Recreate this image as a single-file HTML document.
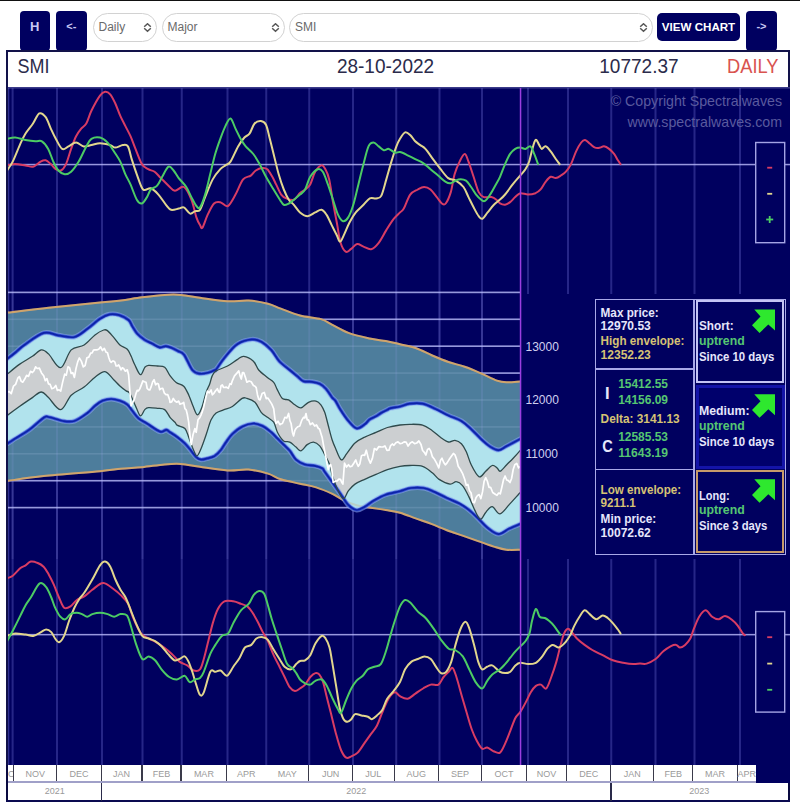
<!DOCTYPE html>
<html><head><meta charset="utf-8">
<style>
*{box-sizing:border-box;margin:0;padding:0}
html,body{width:800px;height:804px;overflow:hidden;background:#fff;font-family:"Liberation Sans",sans-serif}
.a{position:absolute}
.btn{position:absolute;background:#000060;border-radius:4px;color:#c8c8f4;font-weight:bold;font-size:13px;text-align:center}
.sel{position:absolute;border:1px solid #d2d2d2;border-radius:15px;background:#fff;color:#6a6a6a;font-size:12px}
.sel span{position:absolute;left:5px;top:6.4px}
.chev{position:absolute;top:9px}
.hdr{position:absolute;left:6px;top:50px;width:784px;height:38px;border:2px solid #12124a;border-bottom:none;background:#fff}
.hdr div{position:absolute;top:5px;font-size:19px;color:#2d2d4d;white-space:nowrap}
.box{position:absolute;font-weight:bold;font-size:12px;line-height:14px;white-space:nowrap}
.w{color:#eeeeff} .g{color:#d8c470} .gr{color:#42c45a}
.ax{position:absolute;font-size:9px;color:#9a9a9a;text-align:center}
</style></head><body>
<div class="a" style="left:0;top:0;width:800px;height:1.2px;background:#111"></div>
<div class="btn" style="left:19.5px;top:11px;width:30.5px;height:40px;padding-top:8px">H</div>
<div class="btn" style="left:56px;top:11px;width:30.5px;height:40px;padding-top:8.5px;font-size:11px">&lt;-</div>
<div class="sel" style="left:92.5px;top:13px;width:64.5px;height:28.5px"><span>Daily</span><svg class="chev" style="left:49px" width="9" height="10" viewBox="0 0 9 10"><path d="M1.2,3.8 L4.5,0.8 L7.8,3.8 M1.2,5.2 L4.5,8.2 L7.8,5.2" fill="none" stroke="#555" stroke-width="1.5"/></svg></div>
<div class="sel" style="left:161.5px;top:13px;width:123px;height:28.5px"><span>Major</span><svg class="chev" style="left:108px" width="9" height="10" viewBox="0 0 9 10"><path d="M1.2,3.8 L4.5,0.8 L7.8,3.8 M1.2,5.2 L4.5,8.2 L7.8,5.2" fill="none" stroke="#555" stroke-width="1.5"/></svg></div>
<div class="sel" style="left:289px;top:13px;width:363.5px;height:28.5px"><span>SMI</span><svg class="chev" style="left:349px" width="9" height="10" viewBox="0 0 9 10"><path d="M1.2,3.8 L4.5,0.8 L7.8,3.8 M1.2,5.2 L4.5,8.2 L7.8,5.2" fill="none" stroke="#555" stroke-width="1.5"/></svg></div>
<div class="btn" style="left:657px;top:12.5px;width:83px;height:28.5px;border-radius:5px;padding-top:7.5px;color:#fff;font-size:11.6px">VIEW CHART</div>
<div class="btn" style="left:746px;top:11px;width:31px;height:40px;padding-top:8.5px;font-size:11px">-&gt;</div>
<div class="hdr"></div>
<svg width="800" height="804" viewBox="0 0 800 804" style="position:absolute;left:0;top:0">
<defs><clipPath id="pc"><rect x="8" y="292" width="512.5" height="268"/></clipPath><clipPath id="tc"><rect x="8" y="88" width="782" height="204"/></clipPath><clipPath id="bc"><rect x="8" y="559" width="782" height="206"/></clipPath></defs>
<rect x="6" y="87" width="784" height="678" fill="#00005f"/>
<rect x="8" y="87" width="782" height="1.6" fill="#3a3a8a"/>
<rect x="6" y="87" width="2" height="678" fill="#10104a"/>
<rect x="8.2" y="88" width="1" height="677" fill="rgba(120,120,220,0.5)"/>
<rect x="11.60" y="88" width="2" height="677" fill="rgba(110,110,215,0.34)"/>
<rect x="56.00" y="88" width="2" height="677" fill="rgba(110,110,215,0.34)"/>
<rect x="101.00" y="88" width="2" height="677" fill="rgba(110,110,215,0.34)"/>
<rect x="141.50" y="88" width="2" height="677" fill="rgba(110,110,215,0.34)"/>
<rect x="180.75" y="88" width="2" height="677" fill="rgba(110,110,215,0.34)"/>
<rect x="226.50" y="88" width="2" height="677" fill="rgba(110,110,215,0.34)"/>
<rect x="265.25" y="88" width="2" height="677" fill="rgba(110,110,215,0.34)"/>
<rect x="308.25" y="88" width="2" height="677" fill="rgba(110,110,215,0.34)"/>
<rect x="352.00" y="88" width="2" height="677" fill="rgba(110,110,215,0.34)"/>
<rect x="395.25" y="88" width="2" height="677" fill="rgba(110,110,215,0.34)"/>
<rect x="438.50" y="88" width="2" height="677" fill="rgba(110,110,215,0.34)"/>
<rect x="481.00" y="88" width="2" height="677" fill="rgba(110,110,215,0.34)"/>
<rect x="527.00" y="88" width="2" height="206" fill="rgba(110,110,215,0.34)"/>
<rect x="527.00" y="559" width="2" height="206" fill="rgba(110,110,215,0.34)"/>
<rect x="567.00" y="88" width="2" height="206" fill="rgba(110,110,215,0.34)"/>
<rect x="567.00" y="559" width="2" height="206" fill="rgba(110,110,215,0.34)"/>
<rect x="610.25" y="88" width="2" height="206" fill="rgba(110,110,215,0.34)"/>
<rect x="610.25" y="559" width="2" height="206" fill="rgba(110,110,215,0.34)"/>
<rect x="654.50" y="88" width="2" height="206" fill="rgba(110,110,215,0.34)"/>
<rect x="654.50" y="559" width="2" height="206" fill="rgba(110,110,215,0.34)"/>
<rect x="693.50" y="88" width="2" height="206" fill="rgba(110,110,215,0.34)"/>
<rect x="693.50" y="559" width="2" height="206" fill="rgba(110,110,215,0.34)"/>
<rect x="739.00" y="88" width="2" height="206" fill="rgba(110,110,215,0.34)"/>
<rect x="739.00" y="559" width="2" height="206" fill="rgba(110,110,215,0.34)"/>
<rect x="8" y="291.60" width="512.5" height="1.6" fill="rgba(190,190,255,0.75)"/>
<rect x="8" y="318.50" width="512.5" height="1.6" fill="rgba(190,190,255,0.75)"/>
<rect x="8" y="345.40" width="512.5" height="1.6" fill="rgba(190,190,255,0.75)"/>
<rect x="8" y="372.30" width="512.5" height="1.6" fill="rgba(190,190,255,0.75)"/>
<rect x="8" y="399.20" width="512.5" height="1.6" fill="rgba(190,190,255,0.75)"/>
<rect x="8" y="426.10" width="512.5" height="1.6" fill="rgba(190,190,255,0.75)"/>
<rect x="8" y="453.00" width="512.5" height="1.6" fill="rgba(190,190,255,0.75)"/>
<rect x="8" y="479.90" width="512.5" height="1.6" fill="rgba(190,190,255,0.75)"/>
<rect x="8" y="506.80" width="512.5" height="1.6" fill="rgba(190,190,255,0.75)"/>
<g clip-path="url(#pc)">
<path d="M7.3,312.7C14.2,311.9 33.0,309.5 48.5,307.8C64.0,306.1 87.9,303.7 100.0,302.5C112.1,301.3 114.0,301.4 121.0,300.5C128.0,299.6 134.7,298.2 142.0,297.3C149.3,296.4 158.2,295.3 164.7,294.9C171.2,294.5 175.0,294.4 180.9,294.9C186.8,295.4 192.2,296.6 200.0,297.7C207.8,298.8 219.4,300.8 227.5,301.3C235.6,301.8 241.8,300.1 248.5,300.5C255.2,300.9 262.6,302.4 268.0,303.8C273.4,305.2 275.6,306.7 280.9,308.6C286.2,310.6 293.3,313.8 300.0,315.5C306.7,317.2 315.6,317.6 321.0,319.1C326.4,320.7 327.8,322.5 332.4,324.8C337.0,327.1 342.3,330.6 348.5,332.9C354.7,335.2 363.4,337.1 369.6,338.5C375.8,339.9 380.7,340.1 385.8,341.0C390.9,341.9 394.9,343.0 400.0,344.2C405.1,345.4 410.8,346.3 416.2,348.2C421.6,350.1 426.9,353.2 432.3,355.5C437.7,357.8 443.1,360.1 448.5,362.0C453.9,363.9 459.3,364.9 464.7,366.8C470.1,368.7 475.5,371.0 480.9,373.3C486.3,375.6 492.7,379.1 497.0,380.6C501.3,382.1 502.8,382.1 506.7,382.2C510.6,382.3 518.2,381.5 520.5,381.4L520.5,549.7C518.1,549.7 510.8,550.2 506.3,549.7C501.9,549.2 498.5,548.0 493.8,546.6C489.1,545.2 483.3,542.9 478.1,541.1C472.9,539.3 467.7,537.4 462.5,535.6C457.3,533.8 452.1,532.2 446.9,530.2C441.7,528.2 436.5,525.9 431.3,523.9C426.1,521.9 420.8,520.3 415.6,518.4C410.4,516.5 405.0,514.1 400.0,512.7C395.0,511.3 390.9,510.9 385.8,510.0C380.7,509.1 374.5,508.4 369.6,507.6C364.7,506.8 360.9,506.4 356.6,505.2C352.3,504.0 347.7,502.2 343.7,500.3C339.7,498.4 337.0,496.0 332.4,493.9C327.8,491.8 321.6,489.1 316.2,487.4C310.8,485.7 305.9,485.0 300.0,483.7C294.1,482.4 286.2,481.0 280.9,479.3C275.6,477.6 273.4,475.2 268.0,473.6C262.6,472.0 255.2,470.1 248.5,469.6C241.8,469.1 235.6,470.9 227.5,470.4C219.4,469.9 207.8,467.9 200.0,466.8C192.2,465.7 186.8,464.3 180.9,463.9C175.0,463.5 171.2,463.8 164.7,464.4C158.2,464.9 149.3,466.5 142.0,467.2C134.7,467.9 128.0,468.1 121.0,468.8C114.0,469.5 112.9,470.0 100.0,471.2C87.1,472.4 59.2,474.4 43.7,476.0C28.2,477.6 13.4,480.1 7.3,480.9Z" fill="#4d7d9c"/>
</g>
<rect x="8" y="291.60" width="512.5" height="1.6" fill="rgba(200,220,255,0.15)"/>
<rect x="8" y="318.50" width="512.5" height="1.6" fill="rgba(200,220,255,0.15)"/>
<rect x="8" y="345.40" width="512.5" height="1.6" fill="rgba(200,220,255,0.15)"/>
<rect x="8" y="372.30" width="512.5" height="1.6" fill="rgba(200,220,255,0.15)"/>
<rect x="8" y="399.20" width="512.5" height="1.6" fill="rgba(200,220,255,0.15)"/>
<rect x="8" y="426.10" width="512.5" height="1.6" fill="rgba(200,220,255,0.15)"/>
<rect x="8" y="453.00" width="512.5" height="1.6" fill="rgba(200,220,255,0.15)"/>
<rect x="8" y="479.90" width="512.5" height="1.6" fill="rgba(200,220,255,0.15)"/>
<rect x="8" y="506.80" width="512.5" height="1.6" fill="rgba(200,220,255,0.15)"/>
<rect x="11.60" y="292" width="2" height="267" fill="rgba(170,170,255,0.12)"/>
<rect x="56.00" y="292" width="2" height="267" fill="rgba(170,170,255,0.12)"/>
<rect x="101.00" y="292" width="2" height="267" fill="rgba(170,170,255,0.12)"/>
<rect x="141.50" y="292" width="2" height="267" fill="rgba(170,170,255,0.12)"/>
<rect x="180.75" y="292" width="2" height="267" fill="rgba(170,170,255,0.12)"/>
<rect x="226.50" y="292" width="2" height="267" fill="rgba(170,170,255,0.12)"/>
<rect x="265.25" y="292" width="2" height="267" fill="rgba(170,170,255,0.12)"/>
<rect x="308.25" y="292" width="2" height="267" fill="rgba(170,170,255,0.12)"/>
<rect x="352.00" y="292" width="2" height="267" fill="rgba(170,170,255,0.12)"/>
<rect x="395.25" y="292" width="2" height="267" fill="rgba(170,170,255,0.12)"/>
<rect x="438.50" y="292" width="2" height="267" fill="rgba(170,170,255,0.12)"/>
<rect x="481.00" y="292" width="2" height="267" fill="rgba(170,170,255,0.12)"/>
<g clip-path="url(#pc)" fill="none" stroke-linejoin="round" stroke-linecap="round">
<path d="M7.3,312.7C14.2,311.9 33.0,309.5 48.5,307.8C64.0,306.1 87.9,303.7 100.0,302.5C112.1,301.3 114.0,301.4 121.0,300.5C128.0,299.6 134.7,298.2 142.0,297.3C149.3,296.4 158.2,295.3 164.7,294.9C171.2,294.5 175.0,294.4 180.9,294.9C186.8,295.4 192.2,296.6 200.0,297.7C207.8,298.8 219.4,300.8 227.5,301.3C235.6,301.8 241.8,300.1 248.5,300.5C255.2,300.9 262.6,302.4 268.0,303.8C273.4,305.2 275.6,306.7 280.9,308.6C286.2,310.6 293.3,313.8 300.0,315.5C306.7,317.2 315.6,317.6 321.0,319.1C326.4,320.7 327.8,322.5 332.4,324.8C337.0,327.1 342.3,330.6 348.5,332.9C354.7,335.2 363.4,337.1 369.6,338.5C375.8,339.9 380.7,340.1 385.8,341.0C390.9,341.9 394.9,343.0 400.0,344.2C405.1,345.4 410.8,346.3 416.2,348.2C421.6,350.1 426.9,353.2 432.3,355.5C437.7,357.8 443.1,360.1 448.5,362.0C453.9,363.9 459.3,364.9 464.7,366.8C470.1,368.7 475.5,371.0 480.9,373.3C486.3,375.6 492.7,379.1 497.0,380.6C501.3,382.1 502.8,382.1 506.7,382.2C510.6,382.3 518.2,381.5 520.5,381.4" stroke="#cfa46c" stroke-width="2"/>
<path d="M7.3,480.9C13.4,480.1 28.2,477.6 43.7,476.0C59.2,474.4 87.1,472.4 100.0,471.2C112.9,470.0 114.0,469.5 121.0,468.8C128.0,468.1 134.7,467.9 142.0,467.2C149.3,466.5 158.2,464.9 164.7,464.4C171.2,463.8 175.0,463.5 180.9,463.9C186.8,464.3 192.2,465.7 200.0,466.8C207.8,467.9 219.4,469.9 227.5,470.4C235.6,470.9 241.8,469.1 248.5,469.6C255.2,470.1 262.6,472.0 268.0,473.6C273.4,475.2 275.6,477.6 280.9,479.3C286.2,481.0 294.1,482.4 300.0,483.7C305.9,485.0 310.8,485.7 316.2,487.4C321.6,489.1 327.8,491.8 332.4,493.9C337.0,496.0 339.7,498.4 343.7,500.3C347.7,502.2 352.3,504.0 356.6,505.2C360.9,506.4 364.7,506.8 369.6,507.6C374.5,508.4 380.7,509.1 385.8,510.0C390.9,510.9 395.0,511.3 400.0,512.7C405.0,514.1 410.4,516.5 415.6,518.4C420.8,520.3 426.1,521.9 431.3,523.9C436.5,525.9 441.7,528.2 446.9,530.2C452.1,532.2 457.3,533.8 462.5,535.6C467.7,537.4 472.9,539.3 478.1,541.1C483.3,542.9 489.1,545.2 493.8,546.6C498.5,548.0 501.9,549.2 506.3,549.7C510.8,550.2 518.1,549.7 520.5,549.7" stroke="#cfa46c" stroke-width="2"/>
</g>
<g clip-path="url(#pc)">
<path d="M7.3,358.8C8.8,357.7 13.2,354.3 16.0,352.0C18.8,349.7 19.7,348.2 24.3,345.0C28.9,341.8 38.0,334.5 43.7,332.9C49.4,331.3 53.2,334.6 58.3,335.3C63.4,336.0 69.6,338.1 74.4,337.0C79.2,335.9 83.1,331.9 87.4,328.8C91.7,325.8 96.3,321.1 100.0,318.7C103.7,316.3 106.5,314.9 109.7,314.3C112.9,313.7 116.2,314.2 119.4,315.1C122.6,316.1 126.4,318.1 128.6,320.0C130.8,321.9 130.9,323.9 132.3,326.2C133.8,328.5 135.2,331.4 137.3,333.7C139.4,336.0 142.3,338.2 144.8,339.9C147.3,341.5 149.7,342.4 152.2,343.6C154.7,344.9 157.4,347.0 159.7,347.4C162.0,347.8 163.8,346.0 165.9,346.1C168.0,346.2 170.1,347.2 172.1,348.0C174.1,348.8 176.0,349.9 178.0,351.0C180.0,352.1 181.7,351.5 184.1,354.7C186.5,357.9 189.8,366.8 192.4,370.0C195.0,373.2 197.2,373.3 199.9,373.7C202.6,374.1 206.1,373.1 208.6,372.5C211.1,371.9 213.5,370.5 214.8,370.0C216.1,369.5 214.6,371.3 216.2,369.3C217.8,367.3 220.8,362.2 224.3,358.0C227.8,353.8 232.6,347.3 237.2,344.2C241.8,341.1 247.8,339.8 251.8,339.4C255.9,339.0 258.3,340.1 261.5,341.8C264.7,343.6 268.2,346.7 271.2,349.9C274.2,353.1 276.2,357.8 279.3,361.2C282.4,364.6 286.8,367.5 289.8,370.0C292.8,372.5 295.0,374.3 297.3,376.2C299.6,378.1 301.0,380.3 303.5,381.2C306.0,382.1 309.5,381.4 312.2,381.8C314.9,382.2 317.4,382.6 319.7,383.7C322.0,384.8 323.8,386.4 325.9,388.7C328.0,391.0 330.5,395.3 332.1,397.4C333.7,399.4 334.2,398.9 335.6,401.0C337.0,403.1 338.4,406.4 340.5,409.7C342.6,413.0 345.8,417.9 348.5,421.0C351.2,424.1 353.9,427.8 356.6,428.3C359.3,428.9 362.5,425.8 364.7,424.3C366.9,422.8 367.7,420.8 369.6,419.4C371.5,418.0 374.1,417.3 376.0,416.2C377.9,415.1 379.0,414.1 380.9,413.0C382.8,411.9 385.8,410.5 387.4,409.7C389.0,408.9 388.5,408.6 390.6,408.1C392.7,407.6 396.8,407.2 400.0,406.5C403.2,405.8 405.9,404.1 409.7,403.6C413.5,403.1 418.3,402.7 422.6,403.6C426.9,404.5 431.3,406.9 435.6,408.9C439.9,410.9 444.2,413.4 448.5,415.4C452.8,417.4 457.6,418.7 461.4,421.0C465.2,423.3 467.9,426.1 471.2,429.1C474.4,432.1 477.7,435.8 480.9,438.8C484.1,441.8 487.7,445.0 490.6,446.9C493.6,448.8 495.9,450.2 498.6,450.1C501.3,450.0 503.1,448.0 506.7,446.1C510.3,444.2 518.2,440.0 520.5,438.8L520.5,523.9C518.6,524.7 513.1,526.9 509.4,528.6C505.7,530.3 502.0,534.2 498.4,534.1C494.8,534.0 490.9,530.4 487.5,527.8C484.1,525.2 481.2,521.4 478.1,518.4C475.0,515.4 471.9,512.3 468.8,509.8C465.7,507.3 463.0,505.6 459.4,503.6C455.8,501.7 451.1,500.1 446.9,498.1C442.7,496.2 438.3,493.6 434.4,491.9C430.5,490.2 427.3,488.6 423.4,488.0C419.5,487.4 414.8,487.5 410.9,488.0C407.0,488.5 404.2,490.1 400.0,491.2C395.8,492.3 390.1,493.2 385.8,494.7C381.5,496.2 377.9,498.3 374.4,500.3C370.9,502.3 367.7,505.2 364.7,506.8C361.7,508.4 359.3,510.3 356.6,510.0C353.9,509.7 351.2,507.9 348.5,505.2C345.8,502.5 343.2,497.7 340.5,493.9C337.8,490.1 335.1,486.3 332.4,482.5C329.7,478.7 326.0,473.6 324.3,471.2C322.6,468.8 323.8,469.2 322.2,468.3C320.6,467.4 317.6,466.4 314.7,465.8C311.8,465.2 307.9,465.5 304.8,464.5C301.7,463.5 298.5,461.9 296.0,459.6C293.5,457.3 291.9,453.3 289.8,450.8C287.7,448.3 285.7,446.7 283.6,444.6C281.5,442.5 279.5,440.5 277.4,438.4C275.3,436.3 273.7,434.3 271.2,432.2C268.7,430.1 265.5,427.4 262.5,426.0C259.5,424.6 256.8,423.4 253.4,423.5C250.0,423.6 245.6,424.9 242.1,426.7C238.6,428.4 235.1,431.4 232.4,434.0C229.7,436.6 227.9,439.6 226.0,442.2C224.1,444.8 223.0,447.4 221.1,449.7C219.2,452.0 217.1,454.4 214.8,455.9C212.5,457.3 209.7,457.8 207.4,458.4C205.1,459.0 203.0,459.9 201.1,459.7C199.2,459.5 197.8,458.7 196.2,457.2C194.5,455.7 193.1,453.2 191.2,450.9C189.3,448.6 187.2,445.8 184.9,443.5C182.6,441.2 180.0,439.1 177.5,437.2C175.0,435.3 171.9,433.5 170.0,432.3C168.1,431.1 168.0,430.0 166.3,429.9C164.6,429.8 163.1,432.7 159.9,431.6C156.7,430.5 150.5,425.7 146.9,423.5C143.3,421.3 140.9,420.4 138.5,418.3C136.1,416.2 134.2,413.1 132.3,410.8C130.4,408.5 129.4,406.3 127.3,404.6C125.2,402.9 122.6,401.7 119.9,400.8C117.2,399.9 114.1,399.0 111.2,399.0C108.3,399.0 105.2,399.7 102.5,400.8C99.8,401.9 97.5,403.8 95.0,405.8C92.5,407.8 90.8,410.5 87.4,413.0C84.0,415.5 78.5,419.7 74.4,421.0C70.4,422.3 67.4,421.7 63.1,421.0C58.8,420.3 51.7,417.5 48.5,417.0C45.3,416.5 46.9,415.7 43.7,417.8C40.5,419.9 33.7,426.5 29.1,429.9C24.5,433.3 19.8,435.7 16.2,438.0C12.6,440.3 8.8,442.8 7.3,443.7Z" fill="#b1e3ed"/>
<path d="M7.3,374.1C9.3,372.5 15.2,367.4 19.4,364.4C23.6,361.4 28.8,358.7 32.4,356.3C36.0,353.9 38.6,350.3 41.3,349.9C44.0,349.5 45.3,350.9 48.5,353.9C51.7,356.9 56.9,368.4 60.7,367.7C64.5,367.0 67.3,353.7 71.2,349.9C75.1,346.1 80.1,347.5 84.1,345.0C88.1,342.5 91.7,337.4 95.0,334.9C98.3,332.4 101.6,330.7 103.7,330.0C105.8,329.3 105.7,329.4 107.4,330.6C109.1,331.8 111.6,335.0 113.7,337.4C115.8,339.8 117.6,342.9 119.9,344.9C122.2,346.9 125.4,347.3 127.3,349.2C129.2,351.1 129.8,353.5 131.1,356.1C132.3,358.7 133.2,361.7 134.8,364.8C136.4,367.9 138.7,374.3 140.4,374.7C142.1,375.1 143.5,368.9 144.8,367.3C146.2,365.8 146.4,365.6 148.5,365.4C150.6,365.2 154.5,365.7 157.2,366.0C159.9,366.3 162.6,365.7 164.7,367.3C166.8,368.9 168.1,373.1 170.0,375.6C171.9,378.1 173.9,380.7 176.2,382.5C178.5,384.3 181.6,384.1 183.7,386.2C185.8,388.3 187.1,391.6 188.7,394.9C190.2,398.2 191.6,402.8 193.0,406.1C194.4,409.4 195.9,414.6 197.4,414.8C198.9,415.0 200.4,411.1 201.8,407.4C203.2,403.7 204.8,396.3 206.1,392.4C207.4,388.4 208.8,386.5 209.8,383.7C210.8,380.9 211.2,377.7 212.3,375.6C213.4,373.5 213.7,372.5 216.2,370.9C218.7,369.3 224.0,367.9 227.5,366.0C231.0,364.1 234.5,361.2 237.2,359.6C239.9,358.0 241.0,356.0 243.7,356.3C246.4,356.6 250.9,358.9 253.4,361.2C255.9,363.5 256.4,367.3 258.7,370.0C261.0,372.7 264.9,375.4 267.4,377.5C269.9,379.6 272.0,380.3 273.7,382.4C275.4,384.5 275.9,387.2 277.4,389.9C278.8,392.6 280.5,396.9 282.4,398.6C284.3,400.3 286.5,398.9 288.6,399.9C290.7,400.9 292.7,403.5 294.8,404.8C296.9,406.1 298.7,408.3 301.0,407.9C303.3,407.5 306.0,403.4 308.5,402.3C311.0,401.2 313.9,400.7 316.0,401.1C318.1,401.5 319.4,402.9 320.9,404.8C322.3,406.7 323.4,408.8 324.7,412.3C325.9,415.8 327.2,421.4 328.4,426.0C329.6,430.6 330.9,435.9 332.1,439.7C333.3,443.4 334.1,445.1 335.6,448.5C337.1,451.9 339.4,459.1 341.3,459.9C343.2,460.7 344.6,456.2 346.9,453.4C349.2,450.6 352.0,445.6 355.0,442.9C358.0,440.2 361.2,438.9 364.7,437.2C368.2,435.4 372.2,434.0 376.0,432.4C379.8,430.8 383.4,428.7 387.4,427.5C391.4,426.3 396.3,425.5 400.0,425.0C403.7,424.5 405.9,424.3 409.7,424.3C413.5,424.3 418.8,424.0 422.6,425.1C426.4,426.2 429.3,428.7 432.3,430.7C435.3,432.7 437.7,435.3 440.4,437.2C443.1,439.1 446.1,441.5 448.5,442.0C450.9,442.5 452.9,440.1 455.0,440.4C457.1,440.7 459.5,441.8 461.4,443.7C463.3,445.6 464.7,448.2 466.3,451.7C467.9,455.2 469.1,460.5 471.2,464.7C473.3,468.9 476.8,475.7 479.2,476.8C481.6,477.9 483.5,473.1 485.7,471.2C487.9,469.3 490.3,466.1 492.2,465.5C494.1,464.9 495.6,466.9 497.0,467.9C498.4,468.8 498.7,471.7 500.3,471.2C501.9,470.7 504.5,466.9 506.7,464.7C508.9,462.5 510.9,460.6 513.2,458.2C515.5,455.8 519.3,451.5 520.5,450.1L520.5,492.2C518.6,494.2 512.8,500.8 509.4,504.4C506.0,508.0 502.9,513.4 500.0,513.8C497.1,514.2 494.6,507.0 492.2,506.7C489.8,506.4 487.8,510.1 485.9,512.2C483.9,514.3 482.3,519.5 480.5,519.2C478.7,518.9 476.9,514.4 475.0,510.6C473.1,506.8 470.9,500.8 468.8,496.6C466.7,492.4 464.6,488.1 462.5,485.6C460.4,483.1 458.4,481.9 456.3,481.7C454.2,481.4 452.9,484.5 450.0,484.1C447.1,483.7 442.1,481.3 439.1,479.4C436.2,477.5 435.1,475.0 432.3,472.8C429.6,470.6 426.4,467.5 422.6,466.3C418.8,465.1 413.5,465.5 409.7,465.5C405.9,465.5 403.7,465.6 400.0,466.3C396.3,467.0 391.4,468.2 387.4,469.6C383.4,471.0 379.8,472.8 376.0,474.4C372.2,476.0 368.2,477.7 364.7,479.3C361.2,480.9 357.7,482.2 355.0,484.1C352.3,486.0 350.4,488.2 348.5,490.6C346.6,493.0 345.3,498.4 343.7,498.7C342.1,499.0 340.7,496.0 338.8,492.2C336.9,488.4 333.9,480.6 332.4,476.0C330.9,471.4 330.9,468.1 329.6,464.5C328.3,460.9 326.4,457.7 324.7,454.6C323.0,451.5 321.6,448.0 319.7,445.9C317.8,443.8 315.6,442.3 313.5,442.1C311.4,441.9 309.3,443.2 307.2,444.6C305.1,446.1 302.9,450.4 301.0,450.8C299.1,451.2 297.9,448.6 296.0,447.1C294.1,445.7 291.9,443.1 289.8,442.1C287.7,441.1 285.7,442.5 283.6,440.9C281.5,439.2 279.0,435.3 277.4,432.2C275.8,429.1 275.4,424.7 273.7,422.2C272.0,419.7 269.5,418.9 267.4,417.3C265.3,415.7 263.3,414.8 261.2,412.3C259.1,409.8 257.4,404.6 255.0,402.3C252.6,400.0 249.1,399.0 246.9,398.4C244.8,397.8 244.5,397.0 242.1,398.4C239.7,399.8 235.5,404.6 232.4,406.5C229.3,408.4 226.2,408.8 223.5,409.9C220.8,411.0 218.2,411.4 216.1,413.0C214.0,414.6 212.8,416.2 211.1,419.8C209.4,423.4 207.8,430.0 206.1,434.8C204.4,439.6 202.6,445.0 201.1,448.5C199.6,452.0 198.2,456.1 196.8,455.9C195.4,455.7 193.8,450.3 192.4,447.2C191.1,444.1 189.9,440.3 188.7,437.2C187.4,434.1 186.8,430.5 184.9,428.5C183.0,426.5 179.2,426.4 177.5,425.4C175.8,424.4 176.2,423.6 175.0,422.3C173.8,421.0 171.7,419.4 170.0,417.3C168.3,415.2 166.8,411.1 164.7,409.6C162.6,408.1 159.9,408.6 157.2,408.3C154.5,408.0 150.6,407.5 148.5,407.7C146.4,407.9 146.2,408.2 144.8,409.6C143.5,411.0 141.9,416.2 140.4,415.8C138.9,415.4 137.8,410.8 136.0,407.1C134.2,403.4 131.5,396.1 129.8,393.4C128.2,390.7 127.8,392.1 126.1,390.9C124.4,389.6 122.0,387.8 119.9,385.9C117.8,384.0 116.2,382.1 113.7,379.7C111.2,377.3 108.1,372.0 105.0,371.6C101.9,371.2 98.5,374.6 95.0,377.2C91.5,379.8 88.1,384.1 84.1,387.1C80.1,390.1 75.1,391.4 71.2,395.2C67.3,399.0 64.5,409.3 60.7,409.7C56.9,410.1 51.7,400.6 48.5,397.6C45.3,394.7 44.0,392.0 41.3,392.0C38.6,392.0 36.0,395.2 32.4,397.6C28.8,400.0 23.6,403.5 19.4,406.5C15.2,409.5 9.3,413.9 7.3,415.4Z" fill="#cccfd1"/>
</g>
<g clip-path="url(#pc)" fill="none" stroke-linejoin="round" stroke-linecap="round">
<path d="M7.3,312.7C14.2,311.9 33.0,309.5 48.5,307.8C64.0,306.1 87.9,303.7 100.0,302.5C112.1,301.3 114.0,301.4 121.0,300.5C128.0,299.6 134.7,298.2 142.0,297.3C149.3,296.4 158.2,295.3 164.7,294.9C171.2,294.5 175.0,294.4 180.9,294.9C186.8,295.4 192.2,296.6 200.0,297.7C207.8,298.8 219.4,300.8 227.5,301.3C235.6,301.8 241.8,300.1 248.5,300.5C255.2,300.9 262.6,302.4 268.0,303.8C273.4,305.2 275.6,306.7 280.9,308.6C286.2,310.6 293.3,313.8 300.0,315.5C306.7,317.2 315.6,317.6 321.0,319.1C326.4,320.7 327.8,322.5 332.4,324.8C337.0,327.1 342.3,330.6 348.5,332.9C354.7,335.2 363.4,337.1 369.6,338.5C375.8,339.9 380.7,340.1 385.8,341.0C390.9,341.9 394.9,343.0 400.0,344.2C405.1,345.4 410.8,346.3 416.2,348.2C421.6,350.1 426.9,353.2 432.3,355.5C437.7,357.8 443.1,360.1 448.5,362.0C453.9,363.9 459.3,364.9 464.7,366.8C470.1,368.7 475.5,371.0 480.9,373.3C486.3,375.6 492.7,379.1 497.0,380.6C501.3,382.1 502.8,382.1 506.7,382.2C510.6,382.3 518.2,381.5 520.5,381.4" stroke="#cfa46c" stroke-width="2" stroke-opacity="0.3"/>
<path d="M7.3,480.9C13.4,480.1 28.2,477.6 43.7,476.0C59.2,474.4 87.1,472.4 100.0,471.2C112.9,470.0 114.0,469.5 121.0,468.8C128.0,468.1 134.7,467.9 142.0,467.2C149.3,466.5 158.2,464.9 164.7,464.4C171.2,463.8 175.0,463.5 180.9,463.9C186.8,464.3 192.2,465.7 200.0,466.8C207.8,467.9 219.4,469.9 227.5,470.4C235.6,470.9 241.8,469.1 248.5,469.6C255.2,470.1 262.6,472.0 268.0,473.6C273.4,475.2 275.6,477.6 280.9,479.3C286.2,481.0 294.1,482.4 300.0,483.7C305.9,485.0 310.8,485.7 316.2,487.4C321.6,489.1 327.8,491.8 332.4,493.9C337.0,496.0 339.7,498.4 343.7,500.3C347.7,502.2 352.3,504.0 356.6,505.2C360.9,506.4 364.7,506.8 369.6,507.6C374.5,508.4 380.7,509.1 385.8,510.0C390.9,510.9 395.0,511.3 400.0,512.7C405.0,514.1 410.4,516.5 415.6,518.4C420.8,520.3 426.1,521.9 431.3,523.9C436.5,525.9 441.7,528.2 446.9,530.2C452.1,532.2 457.3,533.8 462.5,535.6C467.7,537.4 472.9,539.3 478.1,541.1C483.3,542.9 489.1,545.2 493.8,546.6C498.5,548.0 501.9,549.2 506.3,549.7C510.8,550.2 518.1,549.7 520.5,549.7" stroke="#cfa46c" stroke-width="2" stroke-opacity="0.3"/>
<path d="M7.3,358.8C8.8,357.7 13.2,354.3 16.0,352.0C18.8,349.7 19.7,348.2 24.3,345.0C28.9,341.8 38.0,334.5 43.7,332.9C49.4,331.3 53.2,334.6 58.3,335.3C63.4,336.0 69.6,338.1 74.4,337.0C79.2,335.9 83.1,331.9 87.4,328.8C91.7,325.8 96.3,321.1 100.0,318.7C103.7,316.3 106.5,314.9 109.7,314.3C112.9,313.7 116.2,314.2 119.4,315.1C122.6,316.1 126.4,318.1 128.6,320.0C130.8,321.9 130.9,323.9 132.3,326.2C133.8,328.5 135.2,331.4 137.3,333.7C139.4,336.0 142.3,338.2 144.8,339.9C147.3,341.5 149.7,342.4 152.2,343.6C154.7,344.9 157.4,347.0 159.7,347.4C162.0,347.8 163.8,346.0 165.9,346.1C168.0,346.2 170.1,347.2 172.1,348.0C174.1,348.8 176.0,349.9 178.0,351.0C180.0,352.1 181.7,351.5 184.1,354.7C186.5,357.9 189.8,366.8 192.4,370.0C195.0,373.2 197.2,373.3 199.9,373.7C202.6,374.1 206.1,373.1 208.6,372.5C211.1,371.9 213.5,370.5 214.8,370.0C216.1,369.5 214.6,371.3 216.2,369.3C217.8,367.3 220.8,362.2 224.3,358.0C227.8,353.8 232.6,347.3 237.2,344.2C241.8,341.1 247.8,339.8 251.8,339.4C255.9,339.0 258.3,340.1 261.5,341.8C264.7,343.6 268.2,346.7 271.2,349.9C274.2,353.1 276.2,357.8 279.3,361.2C282.4,364.6 286.8,367.5 289.8,370.0C292.8,372.5 295.0,374.3 297.3,376.2C299.6,378.1 301.0,380.3 303.5,381.2C306.0,382.1 309.5,381.4 312.2,381.8C314.9,382.2 317.4,382.6 319.7,383.7C322.0,384.8 323.8,386.4 325.9,388.7C328.0,391.0 330.5,395.3 332.1,397.4C333.7,399.4 334.2,398.9 335.6,401.0C337.0,403.1 338.4,406.4 340.5,409.7C342.6,413.0 345.8,417.9 348.5,421.0C351.2,424.1 353.9,427.8 356.6,428.3C359.3,428.9 362.5,425.8 364.7,424.3C366.9,422.8 367.7,420.8 369.6,419.4C371.5,418.0 374.1,417.3 376.0,416.2C377.9,415.1 379.0,414.1 380.9,413.0C382.8,411.9 385.8,410.5 387.4,409.7C389.0,408.9 388.5,408.6 390.6,408.1C392.7,407.6 396.8,407.2 400.0,406.5C403.2,405.8 405.9,404.1 409.7,403.6C413.5,403.1 418.3,402.7 422.6,403.6C426.9,404.5 431.3,406.9 435.6,408.9C439.9,410.9 444.2,413.4 448.5,415.4C452.8,417.4 457.6,418.7 461.4,421.0C465.2,423.3 467.9,426.1 471.2,429.1C474.4,432.1 477.7,435.8 480.9,438.8C484.1,441.8 487.7,445.0 490.6,446.9C493.6,448.8 495.9,450.2 498.6,450.1C501.3,450.0 503.1,448.0 506.7,446.1C510.3,444.2 518.2,440.0 520.5,438.8" stroke="#8aa4ee" stroke-opacity="0.6" stroke-width="5"/>
<path d="M7.3,358.8C8.8,357.7 13.2,354.3 16.0,352.0C18.8,349.7 19.7,348.2 24.3,345.0C28.9,341.8 38.0,334.5 43.7,332.9C49.4,331.3 53.2,334.6 58.3,335.3C63.4,336.0 69.6,338.1 74.4,337.0C79.2,335.9 83.1,331.9 87.4,328.8C91.7,325.8 96.3,321.1 100.0,318.7C103.7,316.3 106.5,314.9 109.7,314.3C112.9,313.7 116.2,314.2 119.4,315.1C122.6,316.1 126.4,318.1 128.6,320.0C130.8,321.9 130.9,323.9 132.3,326.2C133.8,328.5 135.2,331.4 137.3,333.7C139.4,336.0 142.3,338.2 144.8,339.9C147.3,341.5 149.7,342.4 152.2,343.6C154.7,344.9 157.4,347.0 159.7,347.4C162.0,347.8 163.8,346.0 165.9,346.1C168.0,346.2 170.1,347.2 172.1,348.0C174.1,348.8 176.0,349.9 178.0,351.0C180.0,352.1 181.7,351.5 184.1,354.7C186.5,357.9 189.8,366.8 192.4,370.0C195.0,373.2 197.2,373.3 199.9,373.7C202.6,374.1 206.1,373.1 208.6,372.5C211.1,371.9 213.5,370.5 214.8,370.0C216.1,369.5 214.6,371.3 216.2,369.3C217.8,367.3 220.8,362.2 224.3,358.0C227.8,353.8 232.6,347.3 237.2,344.2C241.8,341.1 247.8,339.8 251.8,339.4C255.9,339.0 258.3,340.1 261.5,341.8C264.7,343.6 268.2,346.7 271.2,349.9C274.2,353.1 276.2,357.8 279.3,361.2C282.4,364.6 286.8,367.5 289.8,370.0C292.8,372.5 295.0,374.3 297.3,376.2C299.6,378.1 301.0,380.3 303.5,381.2C306.0,382.1 309.5,381.4 312.2,381.8C314.9,382.2 317.4,382.6 319.7,383.7C322.0,384.8 323.8,386.4 325.9,388.7C328.0,391.0 330.5,395.3 332.1,397.4C333.7,399.4 334.2,398.9 335.6,401.0C337.0,403.1 338.4,406.4 340.5,409.7C342.6,413.0 345.8,417.9 348.5,421.0C351.2,424.1 353.9,427.8 356.6,428.3C359.3,428.9 362.5,425.8 364.7,424.3C366.9,422.8 367.7,420.8 369.6,419.4C371.5,418.0 374.1,417.3 376.0,416.2C377.9,415.1 379.0,414.1 380.9,413.0C382.8,411.9 385.8,410.5 387.4,409.7C389.0,408.9 388.5,408.6 390.6,408.1C392.7,407.6 396.8,407.2 400.0,406.5C403.2,405.8 405.9,404.1 409.7,403.6C413.5,403.1 418.3,402.7 422.6,403.6C426.9,404.5 431.3,406.9 435.6,408.9C439.9,410.9 444.2,413.4 448.5,415.4C452.8,417.4 457.6,418.7 461.4,421.0C465.2,423.3 467.9,426.1 471.2,429.1C474.4,432.1 477.7,435.8 480.9,438.8C484.1,441.8 487.7,445.0 490.6,446.9C493.6,448.8 495.9,450.2 498.6,450.1C501.3,450.0 503.1,448.0 506.7,446.1C510.3,444.2 518.2,440.0 520.5,438.8" stroke="#3b5ad6" stroke-width="3.2"/>
<path d="M7.3,358.8C8.8,357.7 13.2,354.3 16.0,352.0C18.8,349.7 19.7,348.2 24.3,345.0C28.9,341.8 38.0,334.5 43.7,332.9C49.4,331.3 53.2,334.6 58.3,335.3C63.4,336.0 69.6,338.1 74.4,337.0C79.2,335.9 83.1,331.9 87.4,328.8C91.7,325.8 96.3,321.1 100.0,318.7C103.7,316.3 106.5,314.9 109.7,314.3C112.9,313.7 116.2,314.2 119.4,315.1C122.6,316.1 126.4,318.1 128.6,320.0C130.8,321.9 130.9,323.9 132.3,326.2C133.8,328.5 135.2,331.4 137.3,333.7C139.4,336.0 142.3,338.2 144.8,339.9C147.3,341.5 149.7,342.4 152.2,343.6C154.7,344.9 157.4,347.0 159.7,347.4C162.0,347.8 163.8,346.0 165.9,346.1C168.0,346.2 170.1,347.2 172.1,348.0C174.1,348.8 176.0,349.9 178.0,351.0C180.0,352.1 181.7,351.5 184.1,354.7C186.5,357.9 189.8,366.8 192.4,370.0C195.0,373.2 197.2,373.3 199.9,373.7C202.6,374.1 206.1,373.1 208.6,372.5C211.1,371.9 213.5,370.5 214.8,370.0C216.1,369.5 214.6,371.3 216.2,369.3C217.8,367.3 220.8,362.2 224.3,358.0C227.8,353.8 232.6,347.3 237.2,344.2C241.8,341.1 247.8,339.8 251.8,339.4C255.9,339.0 258.3,340.1 261.5,341.8C264.7,343.6 268.2,346.7 271.2,349.9C274.2,353.1 276.2,357.8 279.3,361.2C282.4,364.6 286.8,367.5 289.8,370.0C292.8,372.5 295.0,374.3 297.3,376.2C299.6,378.1 301.0,380.3 303.5,381.2C306.0,382.1 309.5,381.4 312.2,381.8C314.9,382.2 317.4,382.6 319.7,383.7C322.0,384.8 323.8,386.4 325.9,388.7C328.0,391.0 330.5,395.3 332.1,397.4C333.7,399.4 334.2,398.9 335.6,401.0C337.0,403.1 338.4,406.4 340.5,409.7C342.6,413.0 345.8,417.9 348.5,421.0C351.2,424.1 353.9,427.8 356.6,428.3C359.3,428.9 362.5,425.8 364.7,424.3C366.9,422.8 367.7,420.8 369.6,419.4C371.5,418.0 374.1,417.3 376.0,416.2C377.9,415.1 379.0,414.1 380.9,413.0C382.8,411.9 385.8,410.5 387.4,409.7C389.0,408.9 388.5,408.6 390.6,408.1C392.7,407.6 396.8,407.2 400.0,406.5C403.2,405.8 405.9,404.1 409.7,403.6C413.5,403.1 418.3,402.7 422.6,403.6C426.9,404.5 431.3,406.9 435.6,408.9C439.9,410.9 444.2,413.4 448.5,415.4C452.8,417.4 457.6,418.7 461.4,421.0C465.2,423.3 467.9,426.1 471.2,429.1C474.4,432.1 477.7,435.8 480.9,438.8C484.1,441.8 487.7,445.0 490.6,446.9C493.6,448.8 495.9,450.2 498.6,450.1C501.3,450.0 503.1,448.0 506.7,446.1C510.3,444.2 518.2,440.0 520.5,438.8" stroke="#0d22a8" stroke-width="1.7"/>
<path d="M7.3,443.7C8.8,442.8 12.6,440.3 16.2,438.0C19.8,435.7 24.5,433.3 29.1,429.9C33.7,426.5 40.5,419.9 43.7,417.8C46.9,415.7 45.3,416.5 48.5,417.0C51.7,417.5 58.8,420.3 63.1,421.0C67.4,421.7 70.4,422.3 74.4,421.0C78.5,419.7 84.0,415.5 87.4,413.0C90.8,410.5 92.5,407.8 95.0,405.8C97.5,403.8 99.8,401.9 102.5,400.8C105.2,399.7 108.3,399.0 111.2,399.0C114.1,399.0 117.2,399.9 119.9,400.8C122.6,401.7 125.2,402.9 127.3,404.6C129.4,406.3 130.4,408.5 132.3,410.8C134.2,413.1 136.1,416.2 138.5,418.3C140.9,420.4 143.3,421.3 146.9,423.5C150.5,425.7 156.7,430.5 159.9,431.6C163.1,432.7 164.6,429.8 166.3,429.9C168.0,430.0 168.1,431.1 170.0,432.3C171.9,433.5 175.0,435.3 177.5,437.2C180.0,439.1 182.6,441.2 184.9,443.5C187.2,445.8 189.3,448.6 191.2,450.9C193.1,453.2 194.5,455.7 196.2,457.2C197.8,458.7 199.2,459.5 201.1,459.7C203.0,459.9 205.1,459.0 207.4,458.4C209.7,457.8 212.5,457.3 214.8,455.9C217.1,454.4 219.2,452.0 221.1,449.7C223.0,447.4 224.1,444.8 226.0,442.2C227.9,439.6 229.7,436.6 232.4,434.0C235.1,431.4 238.6,428.4 242.1,426.7C245.6,424.9 250.0,423.6 253.4,423.5C256.8,423.4 259.5,424.6 262.5,426.0C265.5,427.4 268.7,430.1 271.2,432.2C273.7,434.3 275.3,436.3 277.4,438.4C279.5,440.5 281.5,442.5 283.6,444.6C285.7,446.7 287.7,448.3 289.8,450.8C291.9,453.3 293.5,457.3 296.0,459.6C298.5,461.9 301.7,463.5 304.8,464.5C307.9,465.5 311.8,465.2 314.7,465.8C317.6,466.4 320.6,467.4 322.2,468.3C323.8,469.2 322.6,468.8 324.3,471.2C326.0,473.6 329.7,478.7 332.4,482.5C335.1,486.3 337.8,490.1 340.5,493.9C343.2,497.7 345.8,502.5 348.5,505.2C351.2,507.9 353.9,509.7 356.6,510.0C359.3,510.3 361.7,508.4 364.7,506.8C367.7,505.2 370.9,502.3 374.4,500.3C377.9,498.3 381.5,496.2 385.8,494.7C390.1,493.2 395.8,492.3 400.0,491.2C404.2,490.1 407.0,488.5 410.9,488.0C414.8,487.5 419.5,487.4 423.4,488.0C427.3,488.6 430.5,490.2 434.4,491.9C438.3,493.6 442.7,496.2 446.9,498.1C451.1,500.1 455.8,501.7 459.4,503.6C463.0,505.6 465.7,507.3 468.8,509.8C471.9,512.3 475.0,515.4 478.1,518.4C481.2,521.4 484.1,525.2 487.5,527.8C490.9,530.4 494.8,534.0 498.4,534.1C502.0,534.2 505.7,530.3 509.4,528.6C513.1,526.9 518.6,524.7 520.5,523.9" stroke="#8aa4ee" stroke-opacity="0.6" stroke-width="5"/>
<path d="M7.3,443.7C8.8,442.8 12.6,440.3 16.2,438.0C19.8,435.7 24.5,433.3 29.1,429.9C33.7,426.5 40.5,419.9 43.7,417.8C46.9,415.7 45.3,416.5 48.5,417.0C51.7,417.5 58.8,420.3 63.1,421.0C67.4,421.7 70.4,422.3 74.4,421.0C78.5,419.7 84.0,415.5 87.4,413.0C90.8,410.5 92.5,407.8 95.0,405.8C97.5,403.8 99.8,401.9 102.5,400.8C105.2,399.7 108.3,399.0 111.2,399.0C114.1,399.0 117.2,399.9 119.9,400.8C122.6,401.7 125.2,402.9 127.3,404.6C129.4,406.3 130.4,408.5 132.3,410.8C134.2,413.1 136.1,416.2 138.5,418.3C140.9,420.4 143.3,421.3 146.9,423.5C150.5,425.7 156.7,430.5 159.9,431.6C163.1,432.7 164.6,429.8 166.3,429.9C168.0,430.0 168.1,431.1 170.0,432.3C171.9,433.5 175.0,435.3 177.5,437.2C180.0,439.1 182.6,441.2 184.9,443.5C187.2,445.8 189.3,448.6 191.2,450.9C193.1,453.2 194.5,455.7 196.2,457.2C197.8,458.7 199.2,459.5 201.1,459.7C203.0,459.9 205.1,459.0 207.4,458.4C209.7,457.8 212.5,457.3 214.8,455.9C217.1,454.4 219.2,452.0 221.1,449.7C223.0,447.4 224.1,444.8 226.0,442.2C227.9,439.6 229.7,436.6 232.4,434.0C235.1,431.4 238.6,428.4 242.1,426.7C245.6,424.9 250.0,423.6 253.4,423.5C256.8,423.4 259.5,424.6 262.5,426.0C265.5,427.4 268.7,430.1 271.2,432.2C273.7,434.3 275.3,436.3 277.4,438.4C279.5,440.5 281.5,442.5 283.6,444.6C285.7,446.7 287.7,448.3 289.8,450.8C291.9,453.3 293.5,457.3 296.0,459.6C298.5,461.9 301.7,463.5 304.8,464.5C307.9,465.5 311.8,465.2 314.7,465.8C317.6,466.4 320.6,467.4 322.2,468.3C323.8,469.2 322.6,468.8 324.3,471.2C326.0,473.6 329.7,478.7 332.4,482.5C335.1,486.3 337.8,490.1 340.5,493.9C343.2,497.7 345.8,502.5 348.5,505.2C351.2,507.9 353.9,509.7 356.6,510.0C359.3,510.3 361.7,508.4 364.7,506.8C367.7,505.2 370.9,502.3 374.4,500.3C377.9,498.3 381.5,496.2 385.8,494.7C390.1,493.2 395.8,492.3 400.0,491.2C404.2,490.1 407.0,488.5 410.9,488.0C414.8,487.5 419.5,487.4 423.4,488.0C427.3,488.6 430.5,490.2 434.4,491.9C438.3,493.6 442.7,496.2 446.9,498.1C451.1,500.1 455.8,501.7 459.4,503.6C463.0,505.6 465.7,507.3 468.8,509.8C471.9,512.3 475.0,515.4 478.1,518.4C481.2,521.4 484.1,525.2 487.5,527.8C490.9,530.4 494.8,534.0 498.4,534.1C502.0,534.2 505.7,530.3 509.4,528.6C513.1,526.9 518.6,524.7 520.5,523.9" stroke="#3b5ad6" stroke-width="3.2"/>
<path d="M7.3,443.7C8.8,442.8 12.6,440.3 16.2,438.0C19.8,435.7 24.5,433.3 29.1,429.9C33.7,426.5 40.5,419.9 43.7,417.8C46.9,415.7 45.3,416.5 48.5,417.0C51.7,417.5 58.8,420.3 63.1,421.0C67.4,421.7 70.4,422.3 74.4,421.0C78.5,419.7 84.0,415.5 87.4,413.0C90.8,410.5 92.5,407.8 95.0,405.8C97.5,403.8 99.8,401.9 102.5,400.8C105.2,399.7 108.3,399.0 111.2,399.0C114.1,399.0 117.2,399.9 119.9,400.8C122.6,401.7 125.2,402.9 127.3,404.6C129.4,406.3 130.4,408.5 132.3,410.8C134.2,413.1 136.1,416.2 138.5,418.3C140.9,420.4 143.3,421.3 146.9,423.5C150.5,425.7 156.7,430.5 159.9,431.6C163.1,432.7 164.6,429.8 166.3,429.9C168.0,430.0 168.1,431.1 170.0,432.3C171.9,433.5 175.0,435.3 177.5,437.2C180.0,439.1 182.6,441.2 184.9,443.5C187.2,445.8 189.3,448.6 191.2,450.9C193.1,453.2 194.5,455.7 196.2,457.2C197.8,458.7 199.2,459.5 201.1,459.7C203.0,459.9 205.1,459.0 207.4,458.4C209.7,457.8 212.5,457.3 214.8,455.9C217.1,454.4 219.2,452.0 221.1,449.7C223.0,447.4 224.1,444.8 226.0,442.2C227.9,439.6 229.7,436.6 232.4,434.0C235.1,431.4 238.6,428.4 242.1,426.7C245.6,424.9 250.0,423.6 253.4,423.5C256.8,423.4 259.5,424.6 262.5,426.0C265.5,427.4 268.7,430.1 271.2,432.2C273.7,434.3 275.3,436.3 277.4,438.4C279.5,440.5 281.5,442.5 283.6,444.6C285.7,446.7 287.7,448.3 289.8,450.8C291.9,453.3 293.5,457.3 296.0,459.6C298.5,461.9 301.7,463.5 304.8,464.5C307.9,465.5 311.8,465.2 314.7,465.8C317.6,466.4 320.6,467.4 322.2,468.3C323.8,469.2 322.6,468.8 324.3,471.2C326.0,473.6 329.7,478.7 332.4,482.5C335.1,486.3 337.8,490.1 340.5,493.9C343.2,497.7 345.8,502.5 348.5,505.2C351.2,507.9 353.9,509.7 356.6,510.0C359.3,510.3 361.7,508.4 364.7,506.8C367.7,505.2 370.9,502.3 374.4,500.3C377.9,498.3 381.5,496.2 385.8,494.7C390.1,493.2 395.8,492.3 400.0,491.2C404.2,490.1 407.0,488.5 410.9,488.0C414.8,487.5 419.5,487.4 423.4,488.0C427.3,488.6 430.5,490.2 434.4,491.9C438.3,493.6 442.7,496.2 446.9,498.1C451.1,500.1 455.8,501.7 459.4,503.6C463.0,505.6 465.7,507.3 468.8,509.8C471.9,512.3 475.0,515.4 478.1,518.4C481.2,521.4 484.1,525.2 487.5,527.8C490.9,530.4 494.8,534.0 498.4,534.1C502.0,534.2 505.7,530.3 509.4,528.6C513.1,526.9 518.6,524.7 520.5,523.9" stroke="#0d22a8" stroke-width="1.7"/>
<path d="M7.3,374.1C9.3,372.5 15.2,367.4 19.4,364.4C23.6,361.4 28.8,358.7 32.4,356.3C36.0,353.9 38.6,350.3 41.3,349.9C44.0,349.5 45.3,350.9 48.5,353.9C51.7,356.9 56.9,368.4 60.7,367.7C64.5,367.0 67.3,353.7 71.2,349.9C75.1,346.1 80.1,347.5 84.1,345.0C88.1,342.5 91.7,337.4 95.0,334.9C98.3,332.4 101.6,330.7 103.7,330.0C105.8,329.3 105.7,329.4 107.4,330.6C109.1,331.8 111.6,335.0 113.7,337.4C115.8,339.8 117.6,342.9 119.9,344.9C122.2,346.9 125.4,347.3 127.3,349.2C129.2,351.1 129.8,353.5 131.1,356.1C132.3,358.7 133.2,361.7 134.8,364.8C136.4,367.9 138.7,374.3 140.4,374.7C142.1,375.1 143.5,368.9 144.8,367.3C146.2,365.8 146.4,365.6 148.5,365.4C150.6,365.2 154.5,365.7 157.2,366.0C159.9,366.3 162.6,365.7 164.7,367.3C166.8,368.9 168.1,373.1 170.0,375.6C171.9,378.1 173.9,380.7 176.2,382.5C178.5,384.3 181.6,384.1 183.7,386.2C185.8,388.3 187.1,391.6 188.7,394.9C190.2,398.2 191.6,402.8 193.0,406.1C194.4,409.4 195.9,414.6 197.4,414.8C198.9,415.0 200.4,411.1 201.8,407.4C203.2,403.7 204.8,396.3 206.1,392.4C207.4,388.4 208.8,386.5 209.8,383.7C210.8,380.9 211.2,377.7 212.3,375.6C213.4,373.5 213.7,372.5 216.2,370.9C218.7,369.3 224.0,367.9 227.5,366.0C231.0,364.1 234.5,361.2 237.2,359.6C239.9,358.0 241.0,356.0 243.7,356.3C246.4,356.6 250.9,358.9 253.4,361.2C255.9,363.5 256.4,367.3 258.7,370.0C261.0,372.7 264.9,375.4 267.4,377.5C269.9,379.6 272.0,380.3 273.7,382.4C275.4,384.5 275.9,387.2 277.4,389.9C278.8,392.6 280.5,396.9 282.4,398.6C284.3,400.3 286.5,398.9 288.6,399.9C290.7,400.9 292.7,403.5 294.8,404.8C296.9,406.1 298.7,408.3 301.0,407.9C303.3,407.5 306.0,403.4 308.5,402.3C311.0,401.2 313.9,400.7 316.0,401.1C318.1,401.5 319.4,402.9 320.9,404.8C322.3,406.7 323.4,408.8 324.7,412.3C325.9,415.8 327.2,421.4 328.4,426.0C329.6,430.6 330.9,435.9 332.1,439.7C333.3,443.4 334.1,445.1 335.6,448.5C337.1,451.9 339.4,459.1 341.3,459.9C343.2,460.7 344.6,456.2 346.9,453.4C349.2,450.6 352.0,445.6 355.0,442.9C358.0,440.2 361.2,438.9 364.7,437.2C368.2,435.4 372.2,434.0 376.0,432.4C379.8,430.8 383.4,428.7 387.4,427.5C391.4,426.3 396.3,425.5 400.0,425.0C403.7,424.5 405.9,424.3 409.7,424.3C413.5,424.3 418.8,424.0 422.6,425.1C426.4,426.2 429.3,428.7 432.3,430.7C435.3,432.7 437.7,435.3 440.4,437.2C443.1,439.1 446.1,441.5 448.5,442.0C450.9,442.5 452.9,440.1 455.0,440.4C457.1,440.7 459.5,441.8 461.4,443.7C463.3,445.6 464.7,448.2 466.3,451.7C467.9,455.2 469.1,460.5 471.2,464.7C473.3,468.9 476.8,475.7 479.2,476.8C481.6,477.9 483.5,473.1 485.7,471.2C487.9,469.3 490.3,466.1 492.2,465.5C494.1,464.9 495.6,466.9 497.0,467.9C498.4,468.8 498.7,471.7 500.3,471.2C501.9,470.7 504.5,466.9 506.7,464.7C508.9,462.5 510.9,460.6 513.2,458.2C515.5,455.8 519.3,451.5 520.5,450.1" stroke="#2f4a4c" stroke-width="1.3"/>
<path d="M7.3,415.4C9.3,413.9 15.2,409.5 19.4,406.5C23.6,403.5 28.8,400.0 32.4,397.6C36.0,395.2 38.6,392.0 41.3,392.0C44.0,392.0 45.3,394.7 48.5,397.6C51.7,400.6 56.9,410.1 60.7,409.7C64.5,409.3 67.3,399.0 71.2,395.2C75.1,391.4 80.1,390.1 84.1,387.1C88.1,384.1 91.5,379.8 95.0,377.2C98.5,374.6 101.9,371.2 105.0,371.6C108.1,372.0 111.2,377.3 113.7,379.7C116.2,382.1 117.8,384.0 119.9,385.9C122.0,387.8 124.4,389.6 126.1,390.9C127.8,392.1 128.2,390.7 129.8,393.4C131.5,396.1 134.2,403.4 136.0,407.1C137.8,410.8 138.9,415.4 140.4,415.8C141.9,416.2 143.5,411.0 144.8,409.6C146.2,408.2 146.4,407.9 148.5,407.7C150.6,407.5 154.5,408.0 157.2,408.3C159.9,408.6 162.6,408.1 164.7,409.6C166.8,411.1 168.3,415.2 170.0,417.3C171.7,419.4 173.8,421.0 175.0,422.3C176.2,423.6 175.8,424.4 177.5,425.4C179.2,426.4 183.0,426.5 184.9,428.5C186.8,430.5 187.4,434.1 188.7,437.2C189.9,440.3 191.1,444.1 192.4,447.2C193.8,450.3 195.4,455.7 196.8,455.9C198.2,456.1 199.6,452.0 201.1,448.5C202.6,445.0 204.4,439.6 206.1,434.8C207.8,430.0 209.4,423.4 211.1,419.8C212.8,416.2 214.0,414.6 216.1,413.0C218.2,411.4 220.8,411.0 223.5,409.9C226.2,408.8 229.3,408.4 232.4,406.5C235.5,404.6 239.7,399.8 242.1,398.4C244.5,397.0 244.8,397.8 246.9,398.4C249.1,399.0 252.6,400.0 255.0,402.3C257.4,404.6 259.1,409.8 261.2,412.3C263.3,414.8 265.3,415.7 267.4,417.3C269.5,418.9 272.0,419.7 273.7,422.2C275.4,424.7 275.8,429.1 277.4,432.2C279.0,435.3 281.5,439.2 283.6,440.9C285.7,442.5 287.7,441.1 289.8,442.1C291.9,443.1 294.1,445.7 296.0,447.1C297.9,448.6 299.1,451.2 301.0,450.8C302.9,450.4 305.1,446.1 307.2,444.6C309.3,443.2 311.4,441.9 313.5,442.1C315.6,442.3 317.8,443.8 319.7,445.9C321.6,448.0 323.0,451.5 324.7,454.6C326.4,457.7 328.3,460.9 329.6,464.5C330.9,468.1 330.9,471.4 332.4,476.0C333.9,480.6 336.9,488.4 338.8,492.2C340.7,496.0 342.1,499.0 343.7,498.7C345.3,498.4 346.6,493.0 348.5,490.6C350.4,488.2 352.3,486.0 355.0,484.1C357.7,482.2 361.2,480.9 364.7,479.3C368.2,477.7 372.2,476.0 376.0,474.4C379.8,472.8 383.4,471.0 387.4,469.6C391.4,468.2 396.3,467.0 400.0,466.3C403.7,465.6 405.9,465.5 409.7,465.5C413.5,465.5 418.8,465.1 422.6,466.3C426.4,467.5 429.6,470.6 432.3,472.8C435.1,475.0 436.2,477.5 439.1,479.4C442.1,481.3 447.1,483.7 450.0,484.1C452.9,484.5 454.2,481.4 456.3,481.7C458.4,481.9 460.4,483.1 462.5,485.6C464.6,488.1 466.7,492.4 468.8,496.6C470.9,500.8 473.1,506.8 475.0,510.6C476.9,514.4 478.7,518.9 480.5,519.2C482.3,519.5 483.9,514.3 485.9,512.2C487.8,510.1 489.8,506.4 492.2,506.7C494.6,507.0 497.1,514.2 500.0,513.8C502.9,513.4 506.0,508.0 509.4,504.4C512.8,500.8 518.6,494.2 520.5,492.2" stroke="#2f4a4c" stroke-width="1.3"/>
<path d="M7.3,392.0L9.3,391.6L11.3,393.6L13.5,386.1L15.6,384.4L17.8,378.2L19.4,376.6L21.1,381.1L22.7,382.2L24.6,379.3L26.6,375.3L28.5,376.4L30.5,371.3L32.4,372.5L34.0,370.7L35.6,366.9L37.2,368.5L39.4,368.2L41.5,372.9L43.7,375.8L45.3,380.7L46.9,378.6L48.5,383.9L50.1,384.4L51.8,388.7L53.8,388.0L55.8,385.5L57.4,390.4L59.1,389.8L60.7,391.1L62.7,381.9L64.7,374.1L66.3,375.2L68.0,366.8L69.6,367.7L71.2,373.4L72.8,372.7L74.4,377.4L76.0,368.5L77.7,361.9L79.3,358.0L81.3,361.1L83.3,366.9L85.1,365.6L86.9,357.8L88.8,357.1L90.6,353.1L92.1,353.0L93.5,350.1L95.0,349.9L96.8,349.9L98.7,349.2L100.6,346.9L102.5,350.5L104.3,348.4L106.2,352.3L107.5,352.8L108.7,357.3L110.0,361.0L111.2,362.3L112.5,361.2L113.7,361.0L114.9,362.2L116.1,366.0L117.3,366.0L118.6,364.8L119.8,367.0L121.1,369.8L122.3,367.8L123.6,368.5L125.4,371.2L127.3,369.8L128.6,374.7L129.8,389.7L131.1,405.8L132.9,402.1L134.4,399.1L136.0,393.4L137.2,390.4L138.5,390.9L139.8,388.9L141.0,385.9L142.9,380.9L144.4,381.7L146.0,382.2L147.2,388.5L148.5,389.7L149.8,390.0L151.0,387.2L152.6,382.0L154.1,379.7L155.6,384.8L157.2,383.4L158.4,384.0L159.7,389.7L161.2,388.5L162.8,388.4L164.4,393.2L165.9,394.6L167.8,394.7L169.6,399.6L170.0,402.4L171.7,401.9L173.3,398.4L175.0,401.1L176.8,402.2L178.7,401.1L179.9,404.1L181.2,403.6L182.4,403.5L183.7,402.4L184.9,408.7L186.2,409.9L187.4,414.8L188.7,422.3L189.9,434.8L191.2,444.7L193.0,434.8L194.9,428.5L196.2,432.3L198.0,419.8L199.6,417.9L201.1,414.8L202.3,411.6L203.6,407.4L205.5,399.0L207.4,391.2L209.2,392.9L211.1,389.9L212.3,394.8L213.6,393.7L215.4,391.0L217.3,388.7L218.6,391.7L219.8,392.4L221.1,385.7L222.3,384.9L223.6,387.5L224.8,387.4L226.5,387.2L228.3,388.3L230.0,383.7L231.2,384.3L232.4,380.6L234.5,375.9L236.7,373.4L238.8,370.9L240.1,376.1L241.3,379.0L242.5,372.5L243.7,372.5L245.3,377.1L246.9,382.2L249.1,381.0L251.2,381.8L253.4,385.5L255.0,386.2L256.2,387.6L257.5,394.9L258.8,399.2L260.0,399.9L262.1,393.6L264.3,392.4L266.2,398.6L268.0,398.1L269.9,401.1L271.8,404.1L273.7,408.6L274.9,418.6L276.1,423.5L278.0,421.2L279.9,424.7L281.1,423.8L282.4,423.5L283.6,420.7L284.9,417.3L286.8,418.0L288.6,413.5L289.9,420.7L291.1,423.5L292.4,432.2L293.6,435.9L294.8,430.7L296.0,428.5L297.9,426.7L299.8,426.0L301.6,420.7L303.5,417.3L304.8,418.0L306.0,413.5L307.2,419.8L308.5,419.8L310.3,424.7L312.5,423.0L314.7,426.0L316.5,425.0L318.4,428.5L319.6,429.1L320.9,433.4L322.1,437.2L323.4,444.6L324.6,450.7L325.9,457.1L327.1,464.0L328.3,469.6L329.5,465.5L330.7,464.7L331.9,470.2L333.2,482.5L335.2,481.1L337.2,480.9L338.9,479.2L340.5,479.3L341.7,482.2L342.9,484.1L344.5,463.1L346.5,467.0L348.5,464.7L350.1,466.8L351.8,466.3L353.8,463.2L355.8,459.9L357.1,463.9L358.3,466.3L359.9,463.7L361.5,455.7L363.1,455.0L364.7,455.3L366.3,450.2L368.4,458.6L370.4,463.1L372.4,458.3L374.4,448.5L376.6,450.0L378.7,446.7L380.9,446.9L382.9,447.0L384.9,445.9L387.0,450.3L389.0,450.2L390.6,445.6L392.3,444.0L393.9,445.3L395.9,442.8L398.0,441.9L400.0,443.7L402.0,443.2L404.1,441.9L406.1,442.1L408.1,446.1L410.3,442.9L412.4,441.8L414.6,443.7L416.7,443.0L418.9,441.0L421.0,444.5L422.6,450.5L424.3,452.3L425.9,455.0L427.5,449.4L429.1,448.5L430.7,450.9L432.3,456.6L434.5,459.3L436.6,463.2L438.8,467.9L440.4,460.5L442.0,458.2L443.6,462.2L445.3,464.8L446.9,463.1L449.1,459.6L451.2,456.5L453.4,453.4L455.0,454.9L456.6,459.3L458.2,466.3L460.4,469.5L462.5,473.3L464.7,479.2L466.3,485.2L467.9,484.5L469.5,490.6L471.1,493.0L472.8,501.9L474.4,502.8L476.0,497.8L477.6,495.4L479.2,494.6L480.9,498.6L482.5,491.9L484.1,481.4L485.7,477.6L487.3,481.0L489.0,487.3L490.6,487.3L492.7,492.5L494.9,494.0L497.0,495.4L498.6,493.0L500.3,493.8L501.9,487.0L503.5,479.7L505.1,476.0L506.7,480.0L508.4,480.6L510.0,482.5L511.6,478.5L513.2,469.5L514.8,464.7L516.7,463.4L518.6,467.9L520.5,466.3" stroke="#ffffff" stroke-width="1.7"/>
</g>
<rect x="8" y="163.8" width="782" height="1.5" fill="rgba(190,190,255,0.8)"/>
<rect x="8" y="633.9" width="782" height="1.5" fill="rgba(190,190,255,0.8)"/>
<path clip-path="url(#tc)" d="M7.1,165.4C8.4,165.2 12.2,164.1 15.2,164.1C18.2,164.1 22.4,165.0 25.4,165.4C28.4,165.8 30.5,167.3 33.0,166.7C35.5,166.1 38.5,162.7 40.6,161.6C42.7,160.5 44.0,159.9 45.7,160.3C47.4,160.7 49.1,162.6 50.8,164.1C52.5,165.6 54.1,168.1 55.8,169.2C57.5,170.3 59.2,171.3 60.9,170.5C62.6,169.7 64.3,167.7 66.0,164.1C67.7,160.5 69.4,153.6 71.1,148.9C72.8,144.2 74.4,139.6 76.1,136.2C77.8,132.8 79.5,130.7 81.2,128.6C82.9,126.5 84.6,126.5 86.3,123.5C88.0,120.5 89.1,115.5 91.4,110.8C93.7,106.1 97.7,98.8 100.0,95.6C102.3,92.4 103.4,92.0 105.1,91.8C106.8,91.6 108.5,92.4 110.2,94.3C111.9,96.2 113.5,99.6 115.2,103.2C116.9,106.8 118.6,112.1 120.3,115.9C122.0,119.7 123.7,122.7 125.4,126.1C127.1,129.5 128.8,132.4 130.5,136.2C132.2,140.0 133.6,144.2 135.5,148.9C137.4,153.6 139.8,160.7 141.9,164.1C144.0,167.5 146.1,167.9 148.2,169.2C150.3,170.5 152.5,170.3 154.6,171.8C156.7,173.3 158.6,175.8 160.9,178.1C163.2,180.4 166.2,183.6 168.5,185.7C170.8,187.8 172.3,190.6 174.9,190.8C177.5,191.0 181.1,185.5 183.8,187.0C186.6,188.5 189.3,194.6 191.4,199.7C193.5,204.8 195.0,213.2 196.4,217.4C197.8,221.6 199.0,223.4 200.0,225.1C201.0,226.8 201.2,229.3 202.5,227.6C203.8,225.9 205.7,218.9 207.6,214.9C209.5,210.9 211.9,205.6 214.0,203.5C216.1,201.4 218.0,201.8 220.3,202.2C222.6,202.6 225.4,207.3 227.9,206.0C230.4,204.7 233.0,199.0 235.5,194.6C238.0,190.2 240.5,182.6 243.1,179.4C245.7,176.2 248.7,177.1 250.8,175.6C252.9,174.1 253.9,171.8 255.8,170.5C257.7,169.2 260.3,168.2 262.2,168.0C264.1,167.8 265.6,167.7 267.3,169.2C269.0,170.7 270.8,174.3 272.3,176.8C273.8,179.3 274.6,181.4 276.1,184.4C277.6,187.4 279.5,192.3 281.2,194.6C282.9,196.9 284.2,197.6 286.3,198.4C288.4,199.2 291.6,200.6 293.9,199.7C296.2,198.8 298.1,194.7 300.0,193.0C301.9,191.3 303.4,190.9 305.1,189.5C306.8,188.1 308.5,187.3 310.2,184.4C311.9,181.5 313.3,175.0 315.2,171.8C317.1,168.6 319.9,165.8 321.6,165.4C323.3,165.0 324.1,166.9 325.4,169.2C326.7,171.5 327.9,173.9 329.2,179.4C330.5,184.9 331.7,195.0 333.0,202.2C334.3,209.4 335.5,215.7 336.8,222.5C338.1,229.3 339.1,237.9 340.6,242.8C342.1,247.7 344.0,250.6 345.7,251.7C347.4,252.8 348.9,250.5 350.8,249.2C352.7,247.9 355.0,244.5 357.1,244.1C359.2,243.7 361.2,245.8 363.5,246.6C365.8,247.4 368.6,249.8 371.1,249.2C373.6,248.6 376.2,246.0 378.7,242.8C381.2,239.6 383.8,234.1 386.3,230.1C388.8,226.1 391.6,221.6 393.9,218.7C396.2,215.8 398.4,214.1 400.0,212.4C401.6,210.7 402.1,211.6 403.8,208.6C405.5,205.6 407.9,197.8 410.2,194.6C412.5,191.4 415.5,190.8 417.8,189.5C420.1,188.2 422.0,187.0 424.1,187.0C426.2,187.0 428.4,187.8 430.5,189.5C432.6,191.2 434.9,194.8 436.8,197.1C438.7,199.4 440.4,202.4 441.9,203.5C443.4,204.6 444.2,205.4 445.7,203.5C447.2,201.6 449.3,197.0 450.8,192.1C452.3,187.2 453.1,179.4 454.6,174.3C456.1,169.2 457.9,165.0 459.6,161.6C461.3,158.2 463.2,154.0 464.7,154.0C466.2,154.0 467.0,157.8 468.5,161.6C470.0,165.4 471.9,171.7 473.6,176.8C475.3,181.9 477.0,188.7 478.7,192.1C480.4,195.5 481.7,196.3 483.8,197.1C485.9,197.9 489.3,196.7 491.4,197.1C493.5,197.5 495.0,198.6 496.4,199.7C497.8,200.8 498.6,202.6 500.0,203.4C501.4,204.2 503.4,204.9 505.1,204.7C506.8,204.5 508.4,203.4 510.1,202.1C511.8,200.8 513.5,198.6 515.2,197.1C516.9,195.6 518.2,193.6 520.3,193.2C522.4,192.8 525.4,194.5 527.9,194.5C530.4,194.5 533.4,194.0 535.5,193.2C537.6,192.3 538.9,191.3 540.6,189.4C542.3,187.5 543.9,183.9 545.6,181.8C547.3,179.7 549.0,177.4 550.7,176.8C552.4,176.2 554.1,178.2 555.8,178.0C557.5,177.8 559.2,176.6 560.9,175.5C562.6,174.4 564.2,173.6 565.9,171.7C567.6,169.8 569.3,167.5 571.0,164.1C572.7,160.7 574.4,155.0 576.1,151.4C577.8,147.8 579.7,144.4 581.2,142.5C582.7,140.6 583.5,139.8 585.0,140.0C586.5,140.2 588.3,142.5 590.0,143.8C591.7,145.1 593.4,147.0 595.1,147.6C596.8,148.2 598.7,147.8 600.2,147.6C601.7,147.4 602.5,146.1 604.0,146.3C605.5,146.5 607.4,147.6 609.1,148.9C610.8,150.2 612.6,152.0 614.1,153.9C615.6,155.8 616.8,158.6 617.9,160.3C619.0,162.0 620.1,163.5 620.5,164.1" fill="none" stroke="#d83c64" stroke-width="2" stroke-linejoin="round" stroke-linecap="round"/>
<path clip-path="url(#tc)" d="M7.1,170.5C8.0,169.0 10.5,166.0 12.7,161.6C14.9,157.2 18.2,148.5 20.3,143.8C22.4,139.2 23.3,137.1 25.4,133.7C27.5,130.3 30.7,126.9 33.0,123.5C35.3,120.1 37.2,114.5 39.3,113.4C41.4,112.4 43.8,114.7 45.7,117.2C47.6,119.7 49.1,125.0 50.8,128.6C52.5,132.2 53.9,135.4 55.8,138.8C57.7,142.2 60.1,147.6 62.2,148.9C64.3,150.2 66.2,147.5 68.5,146.4C70.8,145.3 73.5,142.6 76.1,142.6C78.6,142.6 81.2,146.0 83.8,146.4C86.3,146.8 88.7,145.6 91.4,145.1C94.1,144.6 96.9,143.2 100.0,143.2C103.1,143.2 107.7,144.4 110.2,145.1C112.7,145.8 113.1,147.6 115.2,147.6C117.3,147.6 120.7,145.3 122.8,145.1C124.9,144.9 126.4,144.1 127.9,146.4C129.4,148.7 130.2,154.4 131.7,159.1C133.2,163.8 134.9,169.2 136.8,174.3C138.7,179.4 140.8,187.2 143.1,189.5C145.4,191.8 148.2,187.5 150.8,188.3C153.4,189.2 155.9,191.8 158.4,194.6C160.9,197.3 163.9,202.3 166.0,204.8C168.1,207.3 169.0,209.2 171.1,209.8C173.2,210.4 176.6,209.0 178.7,208.6C180.8,208.2 181.9,206.5 183.8,207.3C185.7,208.1 188.2,213.0 190.1,213.6C192.0,214.2 193.5,211.7 195.2,211.1C196.8,210.5 198.3,212.1 200.0,209.8C201.7,207.5 203.0,202.2 205.1,197.1C207.2,192.0 210.2,184.1 212.7,179.4C215.2,174.8 218.2,171.5 220.3,169.2C222.4,166.9 223.7,166.7 225.4,165.4C227.1,164.1 228.4,164.8 230.5,161.6C232.6,158.4 235.8,150.4 238.1,146.4C240.4,142.4 242.5,139.6 244.4,137.5C246.3,135.4 247.8,136.0 249.5,133.7C251.2,131.4 252.7,125.6 254.6,123.5C256.5,121.4 259.0,120.8 260.9,121.0C262.8,121.2 264.5,121.8 266.0,124.8C267.5,127.8 268.5,133.9 269.8,138.8C271.1,143.7 272.1,148.1 273.6,154.0C275.1,159.9 277.0,168.4 278.7,174.3C280.4,180.2 282.1,185.3 283.8,189.5C285.5,193.7 287.1,197.1 288.8,199.7C290.5,202.2 292.0,202.7 293.9,204.8C295.8,206.9 297.7,210.5 300.0,212.4C302.3,214.3 305.1,216.2 307.6,216.2C310.1,216.2 312.9,213.5 315.2,212.4C317.5,211.3 319.7,209.4 321.6,209.8C323.5,210.2 324.9,212.4 326.6,214.9C328.3,217.4 330.0,221.7 331.7,225.1C333.4,228.5 335.4,232.4 336.8,235.2C338.2,237.9 338.8,241.8 340.1,241.6C341.4,241.4 342.8,237.1 344.4,233.9C346.0,230.7 347.6,226.1 349.5,222.5C351.4,218.9 353.5,215.3 355.8,212.4C358.1,209.5 361.2,207.1 363.5,204.8C365.8,202.5 367.7,199.5 369.8,198.4C371.9,197.3 374.2,198.8 376.1,198.4C378.0,198.0 379.5,199.1 381.2,195.9C382.9,192.7 384.6,185.1 386.3,179.4C388.0,173.7 389.7,167.1 391.4,161.6C393.1,156.1 395.0,150.2 396.4,146.4C397.8,142.6 398.6,141.1 400.0,138.8C401.4,136.5 403.4,133.0 405.1,132.4C406.8,131.8 408.5,133.5 410.2,135.0C411.9,136.5 413.5,139.6 415.2,141.3C416.9,143.0 418.6,143.8 420.3,145.1C422.0,146.4 423.3,146.6 425.4,148.9C427.5,151.2 430.5,155.7 433.0,159.1C435.5,162.5 438.1,166.0 440.6,169.2C443.1,172.4 445.7,176.2 448.2,178.1C450.7,180.0 453.2,179.1 455.8,180.6C458.4,182.1 461.4,184.2 463.5,187.0C465.6,189.8 466.8,193.7 468.5,197.1C470.2,200.5 471.9,204.1 473.6,207.3C475.3,210.5 477.2,214.3 478.7,216.2C480.2,218.1 481.0,219.3 482.5,218.7C484.0,218.1 485.7,214.7 487.6,212.4C489.5,210.1 491.8,206.9 493.9,204.8C496.0,202.7 498.1,201.3 500.0,199.6C501.9,197.9 503.0,197.0 505.1,194.5C507.2,192.0 510.2,187.6 512.7,184.4C515.2,181.2 518.2,178.0 520.3,175.5C522.4,173.0 523.9,171.5 525.4,169.2C526.9,166.9 528.2,164.5 529.2,161.5C530.2,158.5 530.7,155.0 531.7,151.4C532.8,147.8 534.2,141.1 535.5,140.0C536.8,138.9 538.2,143.6 539.3,145.1C540.3,146.6 540.8,148.7 541.8,148.9C542.8,149.1 544.1,145.9 545.6,146.3C547.1,146.7 549.0,149.3 550.7,151.4C552.4,153.5 554.3,156.9 555.8,159.0C557.3,161.1 559.0,163.2 559.6,164.1" fill="none" stroke="#e2d68e" stroke-width="2" stroke-linejoin="round" stroke-linecap="round"/>
<path clip-path="url(#tc)" d="M7.1,138.8C8.4,138.6 12.2,137.3 15.2,137.5C18.2,137.7 22.0,139.4 25.4,140.0C28.8,140.6 32.8,141.1 35.5,141.3C38.2,141.5 39.8,140.0 41.9,141.3C44.0,142.6 46.3,145.5 48.2,148.9C50.1,152.3 51.6,158.0 53.3,161.6C55.0,165.2 56.5,168.4 58.4,170.5C60.3,172.6 62.6,174.1 64.7,174.3C66.8,174.5 68.8,173.9 71.1,171.8C73.4,169.7 76.2,165.8 78.7,161.6C81.2,157.4 84.2,150.2 86.3,146.4C88.4,142.6 89.1,140.3 91.4,138.8C93.7,137.3 97.3,136.9 100.0,137.5C102.7,138.1 105.3,140.3 107.6,142.6C109.9,144.9 111.9,148.3 114.0,151.5C116.1,154.7 118.4,157.8 120.3,161.6C122.2,165.4 123.7,170.5 125.4,174.3C127.1,178.1 128.6,180.2 130.5,184.4C132.4,188.6 134.9,196.5 136.8,199.7C138.7,202.9 140.2,203.9 141.9,203.5C143.6,203.1 145.5,199.4 147.0,197.1C148.5,194.8 149.1,191.4 150.8,189.5C152.5,187.6 155.2,187.8 157.1,185.7C159.0,183.6 160.3,180.0 162.2,176.8C164.1,173.6 166.6,167.8 168.5,166.7C170.4,165.6 171.9,168.6 173.6,170.5C175.3,172.4 176.6,175.3 178.7,178.1C180.8,180.8 184.2,183.8 186.3,187.0C188.4,190.2 189.7,193.9 191.4,197.1C193.1,200.3 195.0,204.3 196.4,206.0C197.8,207.7 198.6,209.2 200.0,207.3C201.4,205.4 203.4,200.1 205.1,194.6C206.8,189.1 208.5,181.1 210.2,174.3C211.9,167.5 213.5,159.9 215.2,154.0C216.9,148.1 218.6,143.5 220.3,138.8C222.0,134.2 223.7,129.5 225.4,126.1C227.1,122.7 228.8,118.1 230.5,118.5C232.2,118.9 233.8,125.2 235.5,128.6C237.2,132.0 238.9,135.8 240.6,138.8C242.3,141.8 243.6,143.9 245.7,146.4C247.8,148.9 251.0,151.1 253.3,154.0C255.6,156.9 257.5,160.3 259.6,164.1C261.7,167.9 263.7,172.6 266.0,176.8C268.3,181.0 271.3,185.7 273.6,189.5C275.9,193.3 278.2,197.1 279.9,199.7C281.6,202.2 282.3,204.2 283.8,204.8C285.3,205.4 287.1,204.3 288.8,203.5C290.5,202.7 292.0,201.2 293.9,199.7C295.8,198.2 298.1,196.3 300.0,194.6C301.9,192.9 303.4,192.5 305.1,189.5C306.8,186.5 308.1,180.2 310.2,176.8C312.3,173.4 315.7,170.0 317.8,169.2C319.9,168.4 321.1,169.3 322.8,171.8C324.5,174.3 326.2,179.8 327.9,184.4C329.6,189.1 331.3,194.6 333.0,199.7C334.7,204.8 336.4,211.3 338.1,214.9C339.8,218.5 341.4,220.8 343.1,221.2C344.8,221.6 346.5,220.1 348.2,217.4C349.9,214.7 351.6,210.3 353.3,204.8C355.0,199.3 356.7,191.2 358.4,184.4C360.1,177.6 361.8,170.4 363.5,164.1C365.2,157.8 366.8,150.0 368.5,146.4C370.2,142.8 371.9,142.6 373.6,142.6C375.3,142.6 377.0,145.1 378.7,146.4C380.4,147.7 382.1,149.8 383.8,150.2C385.5,150.6 386.9,148.5 388.8,148.9C390.7,149.3 393.3,152.2 395.2,152.7C397.1,153.2 397.9,151.7 400.0,152.1C402.1,152.5 405.1,154.1 407.6,155.3C410.1,156.5 412.7,157.8 415.2,159.1C417.7,160.4 420.2,161.2 422.8,162.9C425.4,164.6 427.9,167.1 430.5,169.2C433.1,171.3 435.6,173.5 438.1,175.6C440.6,177.7 443.6,180.6 445.7,181.9C447.8,183.2 448.7,183.6 450.8,183.2C452.9,182.8 455.9,179.8 458.4,179.4C460.9,179.0 463.9,179.3 466.0,180.6C468.1,181.9 469.4,184.7 471.1,187.0C472.8,189.3 474.4,192.5 476.1,194.6C477.8,196.7 479.7,198.6 481.2,199.7C482.7,200.8 483.5,201.8 485.0,200.9C486.5,200.1 488.4,197.1 490.1,194.6C491.8,192.1 493.6,188.7 495.2,185.7C496.8,182.7 498.4,180.4 500.0,176.8C501.6,173.2 503.4,167.9 505.1,164.1C506.8,160.3 508.4,156.4 510.1,153.9C511.8,151.4 513.5,150.0 515.2,148.9C516.9,147.8 518.6,147.6 520.3,147.6C522.0,147.6 523.7,149.1 525.4,148.9C527.1,148.7 528.9,145.5 530.4,146.3C531.9,147.1 532.9,150.9 534.2,153.9C535.5,156.9 537.4,162.4 538.0,164.1" fill="none" stroke="#4ccb64" stroke-width="2" stroke-linejoin="round" stroke-linecap="round"/>
<path clip-path="url(#bc)" d="M7.2,578.2C8.1,577.8 10.6,577.4 12.8,575.7C15.0,574.0 18.4,569.7 20.5,568.0C22.6,566.3 23.9,566.5 25.6,565.4C27.3,564.3 28.9,562.0 30.8,561.6C32.7,561.2 35.1,561.9 37.2,562.8C39.3,563.6 41.7,564.8 43.6,566.7C45.5,568.6 47.0,571.4 48.7,574.4C50.4,577.4 52.1,580.8 53.8,584.6C55.5,588.5 57.3,593.6 59.0,597.5C60.7,601.4 62.2,606.2 64.1,607.7C66.0,609.2 68.4,607.7 70.5,606.4C72.6,605.1 74.6,601.7 76.9,600.0C79.2,598.3 82.0,597.9 84.6,596.2C87.2,594.5 89.7,591.8 92.3,589.8C94.9,587.8 97.9,585.1 100.0,584.0C102.1,582.9 103.0,582.6 105.1,583.4C107.2,584.1 110.2,586.6 112.8,588.5C115.4,590.4 117.9,592.3 120.5,594.9C123.1,597.5 126.1,600.0 128.2,603.9C130.3,607.8 131.2,613.1 133.3,618.0C135.4,622.9 138.4,630.0 141.0,633.4C143.6,636.8 146.1,637.0 148.7,638.5C151.3,640.0 153.8,640.8 156.4,642.3C159.0,643.8 161.5,645.6 164.1,647.5C166.7,649.4 169.2,651.5 171.8,653.9C174.4,656.2 176.9,659.7 179.5,661.6C182.1,663.5 184.8,663.9 187.2,665.4C189.5,666.9 191.5,669.9 193.6,670.5C195.7,671.1 198.3,671.2 200.0,669.3C201.7,667.4 202.5,663.3 203.8,659.0C205.1,654.7 206.2,649.6 207.7,643.6C209.2,637.6 211.1,628.9 212.8,623.1C214.5,617.3 216.0,612.6 217.9,609.0C219.8,605.4 221.8,602.6 224.4,601.3C227.0,600.0 230.5,600.9 233.3,601.3C236.1,601.7 238.7,603.0 241.0,603.9C243.3,604.8 245.5,604.9 247.4,606.4C249.3,607.9 250.9,610.2 252.6,612.8C254.3,615.4 256.0,618.6 257.7,621.8C259.4,625.0 261.1,628.9 262.8,632.1C264.5,635.3 266.2,637.4 267.9,641.0C269.6,644.6 271.2,649.6 273.1,653.9C275.0,658.2 277.6,662.9 279.5,666.7C281.4,670.6 282.9,673.6 284.6,677.0C286.3,680.4 288.0,684.9 289.7,687.2C291.4,689.5 293.2,690.8 294.9,691.0C296.6,691.2 298.3,689.6 300.0,688.5C301.7,687.4 303.4,686.5 305.1,684.6C306.8,682.7 308.6,678.9 310.3,677.0C312.0,675.1 313.9,673.5 315.4,673.1C316.9,672.7 317.9,672.9 319.2,674.4C320.5,675.9 321.8,678.2 323.1,682.1C324.4,686.0 325.6,692.4 326.9,697.5C328.2,702.6 329.3,706.8 330.8,712.8C332.3,718.8 334.2,727.2 335.9,733.4C337.6,739.6 339.3,746.0 341.0,750.0C342.7,754.0 344.5,756.6 346.2,757.7C347.9,758.8 349.4,757.2 351.3,756.4C353.2,755.5 355.6,754.7 357.7,752.6C359.8,750.5 362.0,746.6 364.1,743.6C366.2,740.6 368.4,737.6 370.5,734.6C372.6,731.6 375.0,729.3 376.9,725.7C378.8,722.1 380.2,717.3 382.1,712.8C384.0,708.3 386.4,702.1 388.5,698.7C390.6,695.3 393.0,692.7 394.9,692.3C396.8,691.9 397.9,695.1 400.0,696.2C402.1,697.3 405.1,699.1 407.7,698.7C410.3,698.3 412.8,695.3 415.4,693.6C418.0,691.9 420.5,690.0 423.1,688.5C425.7,687.0 428.2,685.2 430.8,684.6C433.4,684.0 436.4,685.9 438.5,684.6C440.6,683.3 441.9,679.1 443.6,677.0C445.3,674.9 447.2,673.3 448.7,671.8C450.2,670.3 451.3,667.1 452.6,668.0C453.9,668.9 454.9,672.5 456.4,677.0C457.9,681.5 459.8,688.9 461.5,694.9C463.2,700.9 465.0,707.0 466.7,712.8C468.4,718.6 470.1,724.8 471.8,729.5C473.5,734.2 475.2,737.8 476.9,741.0C478.6,744.2 480.4,747.6 482.1,748.7C483.8,749.8 485.3,747.1 487.2,747.5C489.1,747.9 491.5,750.4 493.6,751.3C495.7,752.1 498.1,753.9 500.0,752.6C501.9,751.3 503.4,747.2 505.1,743.6C506.8,740.0 508.6,735.1 510.3,730.8C512.0,726.5 513.7,721.2 515.4,718.0C517.1,714.8 518.8,714.2 520.5,711.6C522.2,709.0 523.9,705.8 525.6,702.6C527.3,699.4 529.1,695.1 530.8,692.3C532.5,689.5 534.2,687.2 535.9,685.9C537.6,684.6 539.3,684.2 541.0,684.6C542.7,685.0 544.5,689.8 546.2,688.5C547.9,687.2 549.6,681.5 551.3,677.0C553.0,672.5 554.9,666.7 556.4,661.6C557.9,656.5 559.0,650.9 560.3,646.2C561.6,641.5 562.8,636.3 564.1,633.4C565.4,630.5 566.6,628.9 567.9,628.7C569.2,628.5 570.3,630.5 571.8,632.1C573.3,633.7 574.8,636.4 576.9,638.5C579.0,640.6 582.0,643.0 584.6,644.9C587.2,646.8 589.3,648.3 592.3,650.0C595.3,651.7 599.2,653.4 602.6,655.1C606.0,656.8 609.4,659.0 612.8,660.3C616.2,661.6 619.7,662.2 623.1,662.8C626.5,663.4 630.5,664.0 633.3,664.1C636.1,664.2 637.8,663.7 640.0,663.6C642.2,663.5 644.1,664.4 646.7,663.6C649.3,662.8 652.8,661.0 655.6,659.0C658.4,657.0 660.7,653.4 663.3,651.3C665.9,649.2 668.9,647.3 671.0,646.2C673.1,645.1 674.7,644.7 676.2,644.9C677.7,645.1 678.5,647.5 680.0,647.5C681.5,647.5 683.4,646.4 685.1,644.9C686.8,643.4 688.8,641.3 690.3,638.5C691.8,635.7 692.6,631.8 694.1,628.2C695.6,624.6 697.3,619.7 699.2,616.7C701.1,613.7 703.5,610.3 705.6,610.3C707.8,610.3 710.0,615.2 712.1,616.7C714.2,618.2 716.4,619.4 718.5,619.3C720.6,619.2 722.8,615.9 724.9,615.9C727.0,615.9 729.2,617.7 731.3,619.3C733.4,620.9 735.8,623.2 737.7,625.6C739.6,628.0 741.6,631.8 742.8,633.4C744.0,635.0 744.5,634.9 744.9,635.2" fill="none" stroke="#d83c64" stroke-width="2" stroke-linejoin="round" stroke-linecap="round"/>
<path clip-path="url(#bc)" d="M7.2,635.9C8.6,635.5 12.3,633.6 15.4,633.4C18.5,633.2 22.6,634.2 25.6,634.6C28.6,635.0 30.7,636.3 33.3,635.9C35.9,635.5 38.9,633.2 41.0,632.1C43.1,631.0 44.5,629.5 46.2,629.5C47.9,629.5 49.8,630.6 51.3,632.1C52.8,633.6 53.8,636.8 55.1,638.5C56.4,640.2 57.5,642.7 59.0,642.3C60.5,641.9 62.4,639.5 64.1,635.9C65.8,632.3 67.5,625.2 69.2,620.5C70.9,615.8 72.7,611.3 74.4,607.7C76.1,604.1 77.8,601.3 79.5,598.7C81.2,596.1 82.5,595.5 84.6,592.3C86.7,589.1 89.7,584.0 92.3,579.5C94.9,575.0 97.9,568.4 100.0,565.4C102.1,562.4 103.4,561.4 105.1,561.6C106.8,561.8 108.6,563.7 110.3,566.7C112.0,569.7 113.7,575.6 115.4,579.5C117.1,583.4 118.8,586.8 120.5,589.8C122.2,592.8 123.9,594.1 125.6,597.5C127.3,600.9 129.1,606.0 130.8,610.3C132.5,614.6 134.0,618.8 135.9,623.1C137.8,627.4 140.2,633.3 142.3,635.9C144.4,638.5 146.6,637.6 148.7,638.5C150.8,639.4 153.0,639.8 155.1,641.1C157.2,642.4 159.4,644.1 161.5,646.2C163.6,648.3 165.8,651.5 167.9,653.9C170.1,656.2 172.5,659.4 174.4,660.3C176.3,661.1 177.8,659.6 179.5,659.0C181.2,658.4 183.1,656.0 184.6,656.4C186.1,656.8 187.2,659.0 188.5,661.6C189.8,664.2 191.0,668.0 192.3,671.8C193.6,675.6 194.9,680.8 196.2,684.6C197.5,688.5 198.7,693.6 200.0,694.9C201.3,696.2 202.1,696.1 203.8,692.3C205.5,688.4 208.4,675.2 210.3,671.8C212.2,668.4 213.7,672.0 215.4,671.8C217.1,671.6 218.6,669.9 220.5,670.5C222.4,671.1 224.8,676.3 226.9,675.7C229.0,675.1 231.2,669.7 233.3,666.7C235.4,663.7 237.8,660.9 239.7,657.7C241.6,654.5 243.0,649.6 244.9,647.5C246.8,645.4 249.4,646.4 251.3,644.9C253.2,643.4 254.5,639.8 256.4,638.5C258.3,637.2 260.9,637.0 262.8,637.2C264.7,637.4 266.2,637.9 267.9,639.8C269.6,641.7 271.2,645.5 273.1,648.7C275.0,651.9 277.6,656.0 279.5,659.0C281.4,662.0 282.7,665.0 284.6,666.7C286.5,668.4 289.1,669.7 291.0,669.3C292.9,668.9 294.7,665.5 296.2,664.1C297.7,662.7 298.5,661.6 300.0,661.0C301.5,660.4 303.4,661.3 305.1,660.3C306.8,659.3 308.6,658.0 310.3,655.2C312.0,652.4 313.5,646.8 315.4,643.6C317.3,640.4 320.1,636.8 321.8,635.9C323.5,635.0 324.3,636.6 325.6,638.5C326.9,640.4 328.4,643.6 329.5,647.5C330.6,651.4 331.0,655.4 332.1,661.6C333.2,667.8 334.6,676.9 335.9,684.6C337.2,692.3 338.4,701.9 339.7,707.7C341.0,713.5 342.3,716.9 343.6,719.2C344.9,721.6 346.1,721.8 347.4,721.8C348.7,721.8 350.0,720.5 351.3,719.2C352.6,717.9 353.4,714.7 355.1,714.1C356.8,713.5 359.4,715.0 361.5,715.4C363.6,715.8 366.2,716.1 367.9,716.7C369.6,717.3 370.3,719.4 371.8,719.2C373.3,719.0 375.2,716.9 376.9,715.4C378.6,713.9 380.4,713.1 382.1,710.3C383.8,707.5 385.3,701.9 387.2,698.7C389.1,695.5 391.5,693.8 393.6,691.0C395.7,688.2 398.1,685.6 400.0,682.0C401.9,678.4 403.2,672.7 405.1,669.3C407.0,665.9 409.4,663.3 411.5,661.6C413.6,659.9 415.8,659.9 417.9,659.0C420.0,658.1 422.2,656.4 424.4,656.4C426.5,656.4 428.9,657.3 430.8,659.0C432.7,660.7 434.2,664.4 435.9,666.7C437.6,669.1 439.3,672.2 441.0,673.1C442.7,674.0 444.5,673.7 446.2,671.8C447.9,669.9 449.8,665.9 451.3,661.6C452.8,657.3 453.6,651.6 455.1,646.2C456.6,640.9 458.6,633.6 460.3,629.5C462.0,625.4 463.9,622.0 465.4,621.8C466.9,621.6 467.7,624.1 469.2,628.2C470.7,632.3 472.9,640.6 474.4,646.2C475.9,651.8 476.9,657.8 478.2,661.6C479.5,665.5 480.6,668.4 482.1,669.3C483.6,670.1 485.5,667.4 487.2,666.7C488.9,666.1 490.2,664.5 492.3,665.4C494.4,666.2 497.9,670.5 500.0,671.8C502.1,673.1 503.4,673.1 505.1,673.1C506.8,673.1 508.6,673.1 510.3,671.8C512.0,670.5 513.7,666.9 515.4,665.4C517.1,663.9 518.4,663.0 520.5,662.8C522.6,662.6 525.6,664.1 528.2,664.1C530.8,664.1 533.5,664.1 535.9,662.8C538.2,661.5 540.4,658.8 542.3,656.4C544.2,654.0 545.7,650.6 547.4,648.7C549.1,646.8 550.7,645.1 552.6,644.9C554.5,644.7 556.9,647.9 559.0,647.5C561.1,647.1 563.5,644.4 565.4,642.3C567.3,640.1 569.0,637.4 570.5,634.6C572.0,631.8 572.9,628.6 574.4,625.6C575.9,622.6 577.8,619.2 579.5,616.7C581.2,614.2 582.9,610.7 584.6,610.3C586.3,609.9 587.8,612.6 589.7,614.1C591.6,615.6 594.1,619.0 596.2,619.2C598.4,619.4 600.7,615.6 602.6,615.4C604.5,615.2 606.0,616.7 607.7,618.0C609.4,619.3 611.1,621.2 612.8,623.1C614.5,625.0 616.6,627.8 617.9,629.5C619.2,631.2 620.1,632.8 620.5,633.4" fill="none" stroke="#e2d68e" stroke-width="2" stroke-linejoin="round" stroke-linecap="round"/>
<path clip-path="url(#bc)" d="M7.2,641.0C8.1,639.3 10.6,635.1 12.8,630.8C15.0,626.5 18.4,619.7 20.5,615.4C22.6,611.1 23.9,608.2 25.6,605.2C27.3,602.2 28.4,601.1 30.8,597.5C33.1,593.9 37.1,585.1 39.7,583.4C42.3,581.7 44.3,584.9 46.2,587.2C48.1,589.6 49.8,594.1 51.3,597.5C52.8,600.9 53.6,604.5 55.1,607.7C56.6,610.9 58.6,614.8 60.3,616.7C62.0,618.6 63.7,619.7 65.4,619.3C67.1,618.9 68.6,615.2 70.5,614.1C72.4,613.0 75.0,612.8 76.9,612.8C78.8,612.8 80.4,613.5 82.1,614.1C83.8,614.8 85.5,616.7 87.2,616.7C88.9,616.7 90.2,614.8 92.3,614.1C94.4,613.5 97.4,612.8 100.0,612.8C102.6,612.8 105.4,613.5 107.7,614.1C110.0,614.8 112.0,616.7 114.1,616.7C116.2,616.7 118.4,614.3 120.5,614.1C122.6,613.9 125.2,613.5 126.9,615.4C128.6,617.3 129.3,621.0 130.8,625.7C132.3,630.4 134.0,638.1 135.9,643.6C137.8,649.1 140.2,656.9 142.3,659.0C144.4,661.1 146.6,656.2 148.7,656.4C150.8,656.6 153.0,658.1 155.1,660.3C157.2,662.4 159.2,666.5 161.5,669.3C163.8,672.1 166.6,675.3 169.2,677.0C171.8,678.7 174.3,679.7 176.9,679.5C179.5,679.3 182.5,675.3 184.6,675.7C186.7,676.1 188.0,681.5 189.7,682.1C191.4,682.7 193.2,680.2 194.9,679.5C196.6,678.8 198.5,679.3 200.0,678.0C201.5,676.7 202.1,675.8 203.8,671.8C205.5,667.8 208.4,658.4 210.3,653.9C212.2,649.4 213.5,647.9 215.4,644.9C217.3,641.9 219.7,637.8 221.8,635.9C223.9,634.0 226.3,635.5 228.2,633.4C230.1,631.3 231.2,627.0 233.3,623.1C235.4,619.2 238.4,613.5 241.0,610.3C243.6,607.1 246.6,606.5 248.7,603.9C250.8,601.3 252.1,597.0 253.8,594.9C255.5,592.8 257.3,591.2 259.0,591.0C260.7,590.8 262.6,591.2 264.1,593.6C265.6,596.0 266.6,600.9 267.9,605.2C269.2,609.5 270.3,614.4 271.8,619.3C273.3,624.2 275.2,629.5 276.9,634.6C278.6,639.7 280.4,645.1 282.1,650.0C283.8,654.9 285.5,661.1 287.2,664.1C288.9,667.1 290.8,666.5 292.3,668.0C293.8,669.5 294.9,671.2 296.2,673.1C297.5,675.0 298.5,677.8 300.0,679.5C301.5,681.2 303.4,682.5 305.1,683.4C306.8,684.2 308.6,685.0 310.3,684.6C312.0,684.2 313.5,681.6 315.4,680.8C317.3,679.9 319.9,678.6 321.8,679.5C323.7,680.4 325.2,682.9 326.9,685.9C328.6,688.9 330.4,693.9 332.1,697.5C333.8,701.1 335.7,705.2 337.2,707.7C338.7,710.2 339.5,714.1 341.0,712.8C342.5,711.5 344.5,704.0 346.2,700.0C347.9,696.0 349.6,691.7 351.3,688.5C353.0,685.3 354.5,682.9 356.4,680.8C358.3,678.7 360.9,677.6 362.8,675.7C364.7,673.8 366.0,670.8 367.9,669.3C369.8,667.8 372.2,667.6 374.4,666.7C376.5,665.8 378.9,666.7 380.8,664.1C382.7,661.5 384.2,656.4 385.9,651.3C387.6,646.2 389.5,638.5 391.0,633.4C392.5,628.3 393.4,625.0 394.9,620.5C396.4,616.0 398.3,609.8 400.0,606.4C401.7,603.0 403.4,600.6 405.1,600.0C406.8,599.4 408.2,600.7 410.3,602.6C412.4,604.5 415.3,609.0 417.9,611.6C420.4,614.2 423.0,615.2 425.6,618.0C428.2,620.8 430.7,624.6 433.3,628.2C435.9,631.8 438.4,636.4 441.0,639.8C443.6,643.2 446.3,647.0 448.7,648.7C451.1,650.4 452.8,648.7 455.1,650.0C457.5,651.3 460.5,653.2 462.8,656.4C465.1,659.6 467.1,665.0 469.2,669.3C471.3,673.6 473.5,678.9 475.6,682.1C477.8,685.3 480.2,688.7 482.1,688.5C484.0,688.3 485.5,683.1 487.2,680.8C488.9,678.4 490.2,676.3 492.3,674.4C494.4,672.5 497.9,671.0 500.0,669.3C502.1,667.6 503.4,666.0 505.1,664.1C506.8,662.2 508.6,659.8 510.3,657.7C512.0,655.6 513.7,653.2 515.4,651.3C517.1,649.4 518.8,647.9 520.5,646.2C522.2,644.5 524.1,643.1 525.6,641.0C527.1,638.9 528.4,636.8 529.5,633.4C530.6,630.0 531.0,624.6 532.1,620.5C533.2,616.4 534.6,609.6 535.9,609.0C537.2,608.4 538.2,615.2 539.7,616.7C541.2,618.2 543.4,617.4 544.9,618.0C546.4,618.6 547.2,619.2 548.7,620.5C550.2,621.8 551.9,623.2 553.8,625.6C555.7,628.0 559.2,633.1 560.3,634.6" fill="none" stroke="#4ccb64" stroke-width="2" stroke-linejoin="round" stroke-linecap="round"/>
<rect x="519.8" y="88" width="1.5" height="677" fill="#9a3ee0"/>
<text x="525.5" y="350.5" font-family="Liberation Sans" font-size="12" fill="#d0d0f0">13000</text>
<text x="525.5" y="404.3" font-family="Liberation Sans" font-size="12" fill="#d0d0f0">12000</text>
<text x="525.5" y="458.1" font-family="Liberation Sans" font-size="12" fill="#d0d0f0">11000</text>
<text x="525.5" y="511.9" font-family="Liberation Sans" font-size="12" fill="#d0d0f0">10000</text>
<text x="782" y="105.8" text-anchor="end" font-family="Liberation Sans" font-size="14.2" fill="#5a5a9e">© Copyright Spectralwaves</text>
<text x="782" y="127.2" text-anchor="end" font-family="Liberation Sans" font-size="14.2" fill="#5a5a9e">www.spectralwaves.com</text>
<rect x="755.7" y="142.5" width="29" height="100.2" fill="#00005f" stroke="#a4a4e4" stroke-width="1.4"/>
<rect x="767.2" y="166.8" width="5" height="1.8" fill="#d83c64"/>
<rect x="767.2" y="192.9" width="5" height="1.8" fill="#e2d68e"/>
<rect x="766.2" y="218.6" width="7" height="1.8" fill="#4ccb64"/>
<rect x="768.8" y="216.0" width="1.8" height="7" fill="#4ccb64"/>
<rect x="755.7" y="611.6" width="29" height="100.5" fill="#00005f" stroke="#a4a4e4" stroke-width="1.4"/>
<rect x="767.2" y="636.3" width="5" height="1.8" fill="#d83c64"/>
<rect x="767.2" y="662.7" width="5" height="1.8" fill="#e2d68e"/>
<rect x="767.2" y="688.9" width="5" height="1.8" fill="#4ccb64"/>
</svg>
<!-- info panel -->
<div class="a" style="left:594.8px;top:299px;width:191px;height:256px;border:1.5px solid #a8a8e8"></div>
<div class="a" style="left:594.8px;top:368.2px;width:100px;height:1.5px;background:#a8a8e8"></div>
<div class="a" style="left:594.8px;top:468.6px;width:100px;height:1.5px;background:#a8a8e8"></div>
<div class="a" style="left:693.2px;top:299px;width:1.5px;height:256px;background:#a8a8e8"></div>
<div class="a" style="left:696px;top:300px;width:87.5px;height:83px;border:2.5px solid #c4c4f4"></div>
<div class="a" style="left:695.5px;top:384.6px;width:89.5px;height:84px;border:3px solid #1414a8;background:#00006c"></div>
<div class="a" style="left:696px;top:470px;width:88px;height:82.5px;border:2px solid #c69a6a"></div>
<svg width="800" height="804" style="position:absolute;left:0;top:0" font-family="Liberation Sans">
<text x="17.6" y="72.9" font-size="19.6" fill="#2b2b4b" textLength="32.0" lengthAdjust="spacingAndGlyphs">SMI</text>
<text x="336.9" y="73.0" font-size="19.6" fill="#2b2b4b" textLength="97.2" lengthAdjust="spacingAndGlyphs">28-10-2022</text>
<text x="599.3" y="73.4" font-size="19.6" fill="#2b2b4b" textLength="79.3" lengthAdjust="spacingAndGlyphs">10772.37</text>
<text x="727.0" y="73.0" font-size="19.6" fill="#d9534f" textLength="51.5" lengthAdjust="spacingAndGlyphs">DAILY</text>
<text x="600.6" y="316.6" font-size="12.2" font-weight="bold" fill="#e6e6fb" textLength="58.0" lengthAdjust="spacingAndGlyphs">Max price:</text>
<text x="600.6" y="329.7" font-size="12.2" font-weight="bold" fill="#e6e6fb" textLength="50.2" lengthAdjust="spacingAndGlyphs">12970.53</text>
<text x="600.6" y="344.8" font-size="12.2" font-weight="bold" fill="#d6c274" textLength="83.7" lengthAdjust="spacingAndGlyphs">High envelope:</text>
<text x="600.6" y="359" font-size="12.2" font-weight="bold" fill="#d6c274" textLength="50.2" lengthAdjust="spacingAndGlyphs">12352.23</text>
<text x="618.2" y="388.4" font-size="12.2" font-weight="bold" fill="#55c672" textLength="49.8" lengthAdjust="spacingAndGlyphs">15412.55</text>
<text x="618.2" y="403.5" font-size="12.2" font-weight="bold" fill="#55c672" textLength="49.8" lengthAdjust="spacingAndGlyphs">14156.09</text>
<text x="600.6" y="422.8" font-size="12.2" font-weight="bold" fill="#d6c274" textLength="79.0" lengthAdjust="spacingAndGlyphs">Delta: 3141.13</text>
<text x="618.2" y="441.3" font-size="12.2" font-weight="bold" fill="#55c672" textLength="49.8" lengthAdjust="spacingAndGlyphs">12585.53</text>
<text x="618.2" y="456.5" font-size="12.2" font-weight="bold" fill="#55c672" textLength="49.8" lengthAdjust="spacingAndGlyphs">11643.19</text>
<text x="600.6" y="493.9" font-size="12.2" font-weight="bold" fill="#d6c274" textLength="80.5" lengthAdjust="spacingAndGlyphs">Low envelope:</text>
<text x="600.6" y="507" font-size="12.2" font-weight="bold" fill="#d6c274" textLength="35.1" lengthAdjust="spacingAndGlyphs">9211.1</text>
<text x="600.6" y="522.8" font-size="12.2" font-weight="bold" fill="#e6e6fb" textLength="55.7" lengthAdjust="spacingAndGlyphs">Min price:</text>
<text x="600.6" y="536.5" font-size="12.2" font-weight="bold" fill="#e6e6fb" textLength="50.2" lengthAdjust="spacingAndGlyphs">10072.62</text>
<text x="699" y="330" font-size="12.2" font-weight="bold" fill="#e6e6fb" textLength="34.7" lengthAdjust="spacingAndGlyphs">Short:</text>
<text x="699" y="344.5" font-size="12.2" font-weight="bold" fill="#55c672" textLength="45.7" lengthAdjust="spacingAndGlyphs">uptrend</text>
<text x="699" y="361" font-size="12.2" font-weight="bold" fill="#e6e6fb" textLength="75.3" lengthAdjust="spacingAndGlyphs">Since 10 days</text>
<text x="699" y="414.9" font-size="12.2" font-weight="bold" fill="#e6e6fb" textLength="50.5" lengthAdjust="spacingAndGlyphs">Medium:</text>
<text x="699" y="430" font-size="12.2" font-weight="bold" fill="#55c672" textLength="45.7" lengthAdjust="spacingAndGlyphs">uptrend</text>
<text x="699" y="445.8" font-size="12.2" font-weight="bold" fill="#e6e6fb" textLength="75.3" lengthAdjust="spacingAndGlyphs">Since 10 days</text>
<text x="699" y="499.9" font-size="12.2" font-weight="bold" fill="#e6e6fb" textLength="30.6" lengthAdjust="spacingAndGlyphs">Long:</text>
<text x="699" y="514.3" font-size="12.2" font-weight="bold" fill="#55c672" textLength="45.7" lengthAdjust="spacingAndGlyphs">uptrend</text>
<text x="699" y="530.2" font-size="12.2" font-weight="bold" fill="#e6e6fb" textLength="68.4" lengthAdjust="spacingAndGlyphs">Since 3 days</text>
<text x="605.0" y="398.7" font-size="16.5" font-weight="bold" fill="#e6e6fb">I</text>
<text x="602.3" y="451.7" font-size="16.5" font-weight="bold" fill="#e6e6fb" textLength="10.5" lengthAdjust="spacingAndGlyphs">C</text>
</svg>
<svg width="800" height="804" style="position:absolute;left:0;top:0"><polygon points="754.3,309.5 775.0,309.5 775.0,330.5 768.3,324.5 759.5,333.0 752.0,325.3 760.5,316.5" fill="#2ee82e"/><polygon points="754.3,394.3 775.0,394.3 775.0,415.3 768.3,409.3 759.5,417.8 752.0,410.1 760.5,401.3" fill="#2ee82e"/><polygon points="754.3,479.3 775.0,479.3 775.0,500.3 768.3,494.3 759.5,502.8 752.0,495.1 760.5,486.3" fill="#2ee82e"/></svg>
<div class="a" style="left:6px;top:765px;width:750px;height:17px;background:#fff"></div>
<div class="ax" style="left:8.00px;top:768.5px;width:5.75px;overflow:hidden">O</div>
<div class="a" style="left:13.15px;top:765px;width:1.3px;height:17px;background:#3a3a4a"></div>
<div class="ax" style="left:13.75px;top:768.5px;width:43.00px;overflow:hidden">NOV</div>
<div class="a" style="left:56.15px;top:765px;width:1.3px;height:17px;background:#3a3a4a"></div>
<div class="ax" style="left:56.75px;top:768.5px;width:44.50px;overflow:hidden">DEC</div>
<div class="a" style="left:100.65px;top:765px;width:1.3px;height:17px;background:#3a3a4a"></div>
<div class="ax" style="left:101.25px;top:768.5px;width:40.75px;overflow:hidden">JAN</div>
<div class="a" style="left:141.40px;top:765px;width:1.3px;height:17px;background:#3a3a4a"></div>
<div class="ax" style="left:142.00px;top:768.5px;width:39.00px;overflow:hidden">FEB</div>
<div class="a" style="left:180.40px;top:765px;width:1.3px;height:17px;background:#3a3a4a"></div>
<div class="ax" style="left:181.00px;top:768.5px;width:45.75px;overflow:hidden">MAR</div>
<div class="a" style="left:226.15px;top:765px;width:1.3px;height:17px;background:#3a3a4a"></div>
<div class="ax" style="left:226.75px;top:768.5px;width:39.00px;overflow:hidden">APR</div>
<div class="ax" style="left:265.75px;top:768.5px;width:43.00px;overflow:hidden">MAY</div>
<div class="a" style="left:308.15px;top:765px;width:1.3px;height:17px;background:#3a3a4a"></div>
<div class="ax" style="left:308.75px;top:768.5px;width:43.75px;overflow:hidden">JUN</div>
<div class="a" style="left:351.90px;top:765px;width:1.3px;height:17px;background:#3a3a4a"></div>
<div class="ax" style="left:352.50px;top:768.5px;width:41.75px;overflow:hidden">JUL</div>
<div class="a" style="left:393.65px;top:765px;width:1.3px;height:17px;background:#3a3a4a"></div>
<div class="ax" style="left:394.25px;top:768.5px;width:44.00px;overflow:hidden">AUG</div>
<div class="a" style="left:437.65px;top:765px;width:1.3px;height:17px;background:#3a3a4a"></div>
<div class="ax" style="left:438.25px;top:768.5px;width:43.50px;overflow:hidden">SEP</div>
<div class="a" style="left:481.15px;top:765px;width:1.3px;height:17px;background:#3a3a4a"></div>
<div class="ax" style="left:481.75px;top:768.5px;width:44.50px;overflow:hidden">OCT</div>
<div class="a" style="left:525.65px;top:765px;width:1.3px;height:17px;background:#3a3a4a"></div>
<div class="ax" style="left:526.25px;top:768.5px;width:40.35px;overflow:hidden">NOV</div>
<div class="a" style="left:566.00px;top:765px;width:1.3px;height:17px;background:#3a3a4a"></div>
<div class="ax" style="left:566.60px;top:768.5px;width:44.20px;overflow:hidden">DEC</div>
<div class="a" style="left:610.20px;top:765px;width:1.3px;height:17px;background:#3a3a4a"></div>
<div class="ax" style="left:610.80px;top:768.5px;width:42.90px;overflow:hidden">JAN</div>
<div class="a" style="left:653.10px;top:765px;width:1.3px;height:17px;background:#3a3a4a"></div>
<div class="ax" style="left:653.70px;top:768.5px;width:39.00px;overflow:hidden">FEB</div>
<div class="a" style="left:692.10px;top:765px;width:1.3px;height:17px;background:#3a3a4a"></div>
<div class="ax" style="left:692.70px;top:768.5px;width:44.60px;overflow:hidden">MAR</div>
<div class="a" style="left:736.70px;top:765px;width:1.3px;height:17px;background:#3a3a4a"></div>
<div class="ax" style="left:737.30px;top:768.5px;width:18.80px;overflow:hidden">APR</div>
<div class="a" style="left:6px;top:781px;width:750px;height:1.5px;background:#a0a0c8"></div>
<div class="a" style="left:6px;top:782.5px;width:783px;height:18.5px;background:#fff"></div>
<div class="a" style="left:756px;top:765px;width:33.5px;height:17.5px;background:#00005f"></div>
<div class="a" style="left:6px;top:765px;width:2px;height:37px;background:#0a0a40"></div>
<div class="a" style="left:787.5px;top:782.5px;width:2px;height:19px;background:#0a0a40"></div>
<div class="a" style="left:6px;top:799.5px;width:783.5px;height:2px;background:#0a0a50"></div>
<div class="ax" style="left:8px;top:786px;width:93.5px">2021</div>
<div class="ax" style="left:101.5px;top:786px;width:509.5px">2022</div>
<div class="ax" style="left:611px;top:786px;width:176.5px">2023</div>
<div class="a" style="left:100.9px;top:782.5px;width:1.3px;height:18px;background:#2a2a4a"></div>
<div class="a" style="left:610.4px;top:782.5px;width:1.3px;height:18px;background:#2a2a4a"></div>
</body></html>
